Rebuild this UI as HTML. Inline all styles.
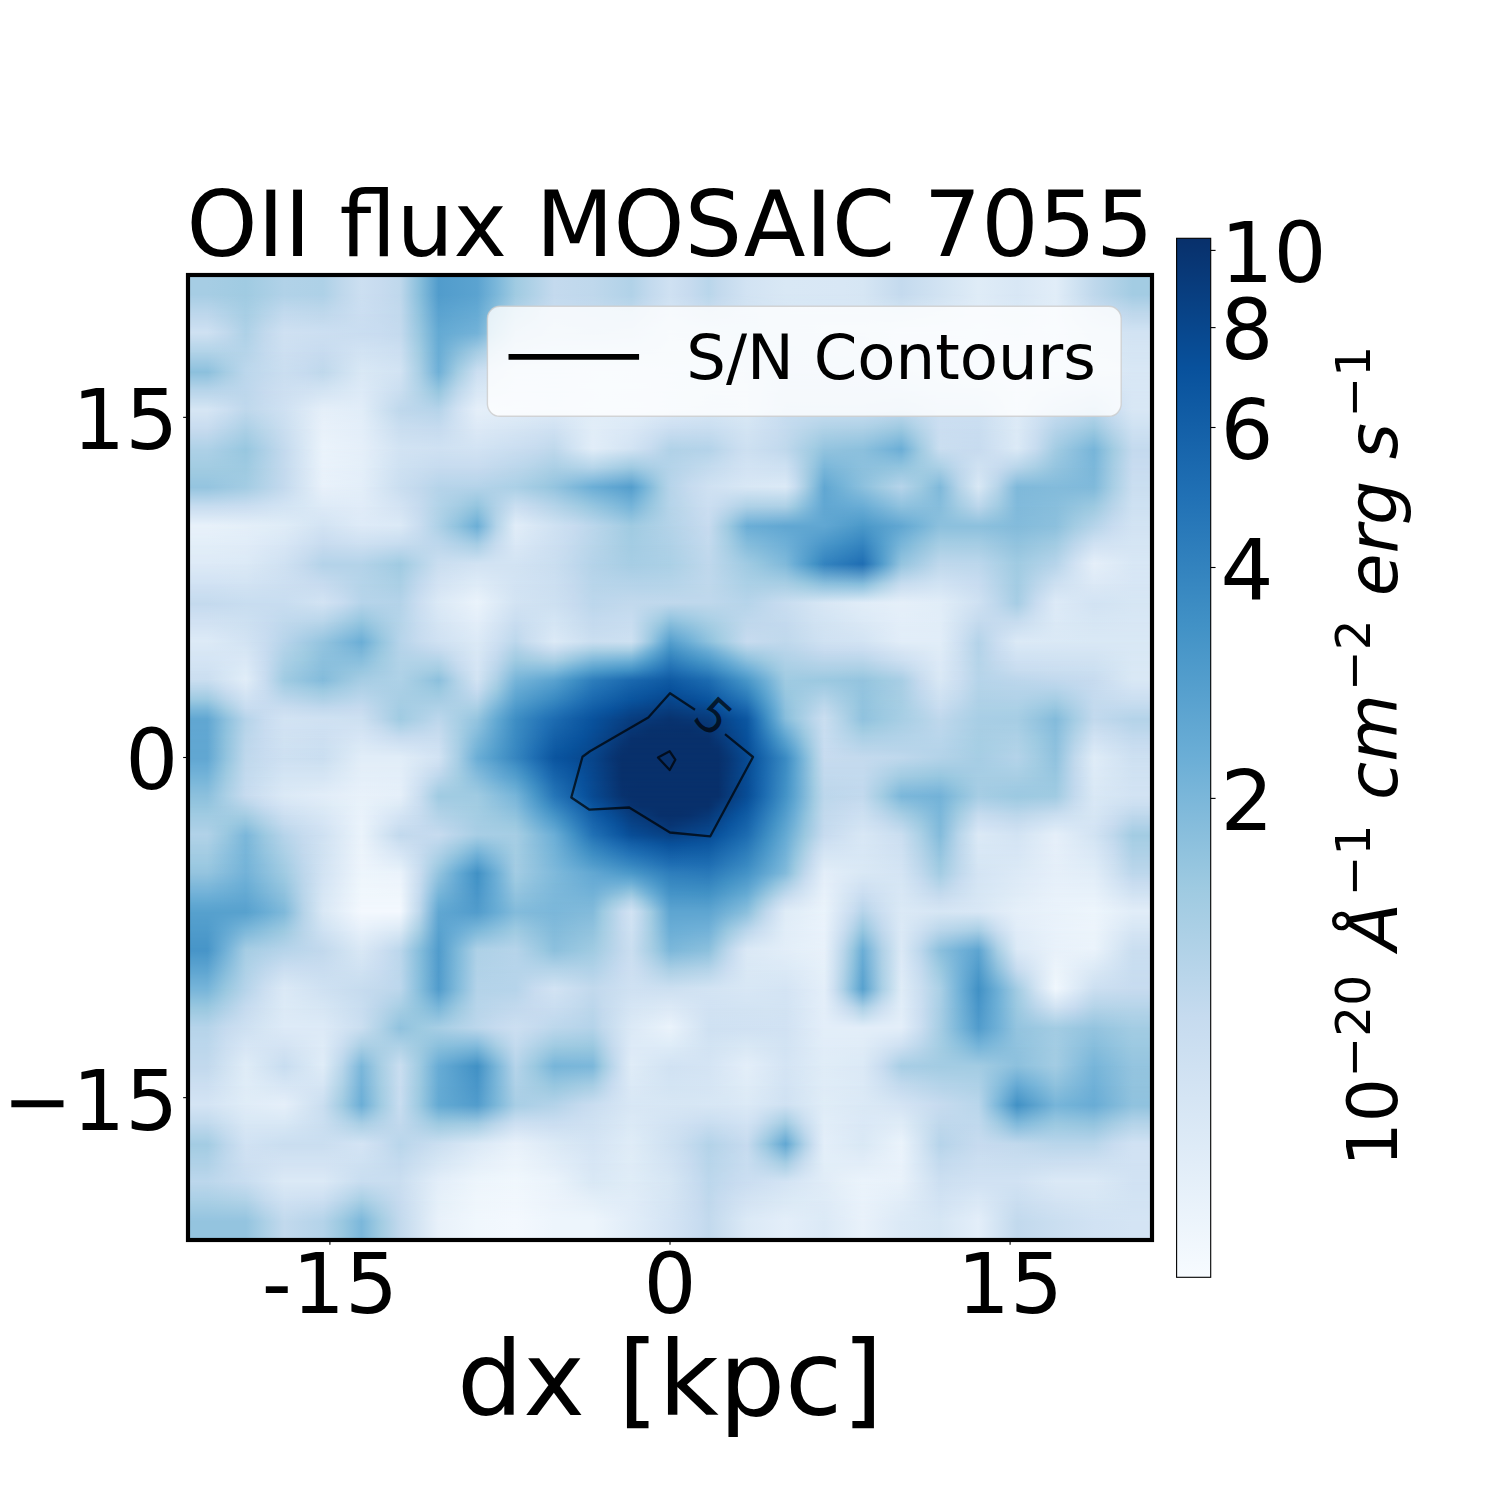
<!DOCTYPE html>
<html lang="en"><head><meta charset="utf-8"><title>OII flux MOSAIC 7055</title>
<style>html,body{margin:0;padding:0;background:#fff}svg{display:block}text{font-family:'DejaVu Sans','Liberation Sans',sans-serif;fill:#000}</style>
</head><body>
<svg width="1500" height="1500" viewBox="0 0 1500 1500" role="img" aria-label="OII flux MOSAIC 7055 map with S/N contours and colour bar">
<defs>
<clipPath id="axclip"><rect x="188" y="275" width="964" height="965"/></clipPath>
<linearGradient id="vr" x1="0" y1="0" x2="0" y2="1"><stop offset="0" stop-color="#000"/><stop offset="1" stop-color="#fff"/></linearGradient>
<mask id="vm" maskContentUnits="objectBoundingBox" x="0" y="0" width="1" height="1"><rect x="0" y="0" width="1" height="1" fill="url(#vr)"/></mask>
<linearGradient id="r0" gradientUnits="userSpaceOnUse" x1="207.28" y1="0" x2="1132.72" y2="0"><stop offset="0" stop-color="#a6cde4"/><stop offset="0.0417" stop-color="#a0cbe2"/><stop offset="0.0833" stop-color="#b1d2e8"/><stop offset="0.125" stop-color="#aed1e7"/><stop offset="0.1458" stop-color="#bfd8ec"/><stop offset="0.1667" stop-color="#ccdff1"/><stop offset="0.1875" stop-color="#c7dbef"/><stop offset="0.2083" stop-color="#bfd8ec"/><stop offset="0.2292" stop-color="#89bfdc"/><stop offset="0.25" stop-color="#519ccc"/><stop offset="0.2917" stop-color="#5ba3d0"/><stop offset="0.3125" stop-color="#7bb7da"/><stop offset="0.3333" stop-color="#a0cbe2"/><stop offset="0.375" stop-color="#c4daee"/><stop offset="0.4167" stop-color="#bfd8ec"/><stop offset="0.4583" stop-color="#b1d2e8"/><stop offset="0.4792" stop-color="#c3daee"/><stop offset="0.5" stop-color="#cfe1f2"/><stop offset="0.5208" stop-color="#c7dbef"/><stop offset="0.5417" stop-color="#b9d6eb"/><stop offset="0.5521" stop-color="#c2d9ed"/><stop offset="0.5833" stop-color="#d2e3f3"/><stop offset="0.625" stop-color="#d9e8f5"/><stop offset="0.6875" stop-color="#d8e7f5"/><stop offset="0.7083" stop-color="#d6e6f4"/><stop offset="0.75" stop-color="#c4daee"/><stop offset="0.8333" stop-color="#dfecf7"/><stop offset="0.875" stop-color="#d8e7f5"/><stop offset="0.9167" stop-color="#e1edf8"/><stop offset="0.9583" stop-color="#bfd8ec"/><stop offset="1" stop-color="#a3cce3"/></linearGradient>
<linearGradient id="r1" gradientUnits="userSpaceOnUse" x1="207.28" y1="0" x2="1132.72" y2="0"><stop offset="0" stop-color="#bdd7ec"/><stop offset="0.0417" stop-color="#a7cee4"/><stop offset="0.0833" stop-color="#c3daee"/><stop offset="0.125" stop-color="#bfd8ec"/><stop offset="0.1667" stop-color="#cbdef1"/><stop offset="0.2083" stop-color="#c2d9ed"/><stop offset="0.2292" stop-color="#91c3de"/><stop offset="0.25" stop-color="#5ba3d0"/><stop offset="0.2917" stop-color="#66abd4"/><stop offset="0.3125" stop-color="#8dc1dd"/><stop offset="0.3333" stop-color="#b1d2e8"/><stop offset="0.3646" stop-color="#c4daee"/><stop offset="0.375" stop-color="#c8ddf0"/><stop offset="0.4583" stop-color="#c0d9ed"/><stop offset="0.4688" stop-color="#c7dcef"/><stop offset="0.5" stop-color="#d4e4f4"/><stop offset="0.5417" stop-color="#cadef0"/><stop offset="0.6042" stop-color="#d5e5f4"/><stop offset="0.6354" stop-color="#d8e7f5"/><stop offset="0.7083" stop-color="#d8e7f5"/><stop offset="0.75" stop-color="#d3e4f3"/><stop offset="0.8333" stop-color="#e0ecf8"/><stop offset="0.875" stop-color="#dae9f6"/><stop offset="0.9167" stop-color="#e1edf8"/><stop offset="0.9583" stop-color="#ccdff1"/><stop offset="0.9792" stop-color="#c7dbef"/><stop offset="1" stop-color="#bfd8ec"/></linearGradient>
<linearGradient id="r2" gradientUnits="userSpaceOnUse" x1="207.28" y1="0" x2="1132.72" y2="0"><stop offset="0" stop-color="#cfe1f2"/><stop offset="0.0208" stop-color="#c2d9ed"/><stop offset="0.0417" stop-color="#aed1e7"/><stop offset="0.0625" stop-color="#c2d9ed"/><stop offset="0.0833" stop-color="#cfe1f2"/><stop offset="0.1875" stop-color="#c8dcf0"/><stop offset="0.2083" stop-color="#c4daee"/><stop offset="0.2292" stop-color="#99c7e0"/><stop offset="0.25" stop-color="#64aad3"/><stop offset="0.2917" stop-color="#73b2d8"/><stop offset="0.3125" stop-color="#9fcae1"/><stop offset="0.3333" stop-color="#c2d9ed"/><stop offset="0.375" stop-color="#ccdff1"/><stop offset="0.4167" stop-color="#c8ddf0"/><stop offset="0.4583" stop-color="#ccdff1"/><stop offset="0.5" stop-color="#d9e8f5"/><stop offset="0.5833" stop-color="#d2e3f3"/><stop offset="0.6667" stop-color="#d9e8f5"/><stop offset="0.7083" stop-color="#d9e8f5"/><stop offset="0.75" stop-color="#e1edf8"/><stop offset="0.8333" stop-color="#e1edf8"/><stop offset="0.875" stop-color="#ddeaf7"/><stop offset="0.9167" stop-color="#e1edf8"/><stop offset="0.9583" stop-color="#d6e6f4"/><stop offset="1" stop-color="#d2e3f3"/></linearGradient>
<linearGradient id="r3" gradientUnits="userSpaceOnUse" x1="207.28" y1="0" x2="1132.72" y2="0"><stop offset="0" stop-color="#b2d3e8"/><stop offset="0.0417" stop-color="#b5d4e9"/><stop offset="0.0625" stop-color="#c3daee"/><stop offset="0.0833" stop-color="#cddff1"/><stop offset="0.125" stop-color="#c7dbef"/><stop offset="0.1667" stop-color="#d2e3f3"/><stop offset="0.2083" stop-color="#ccdff1"/><stop offset="0.2292" stop-color="#a2cce2"/><stop offset="0.25" stop-color="#69add5"/><stop offset="0.2708" stop-color="#89bedc"/><stop offset="0.2917" stop-color="#a6cde4"/><stop offset="0.3125" stop-color="#bed8ec"/><stop offset="0.3333" stop-color="#d0e2f2"/><stop offset="0.3958" stop-color="#d5e5f4"/><stop offset="0.4583" stop-color="#d6e6f4"/><stop offset="0.5104" stop-color="#dbe9f6"/><stop offset="0.5938" stop-color="#d5e5f4"/><stop offset="0.625" stop-color="#d2e3f3"/><stop offset="0.7083" stop-color="#d6e6f4"/><stop offset="0.75" stop-color="#ddeaf7"/><stop offset="0.8333" stop-color="#e1edf8"/><stop offset="0.875" stop-color="#dfecf7"/><stop offset="0.9167" stop-color="#e1edf8"/><stop offset="0.9583" stop-color="#d9e8f5"/><stop offset="1" stop-color="#d5e5f4"/></linearGradient>
<linearGradient id="r4" gradientUnits="userSpaceOnUse" x1="207.28" y1="0" x2="1132.72" y2="0"><stop offset="0" stop-color="#8cc0dd"/><stop offset="0.0208" stop-color="#a6cde4"/><stop offset="0.0417" stop-color="#bcd7ec"/><stop offset="0.0833" stop-color="#cadef0"/><stop offset="0.1042" stop-color="#c6dbef"/><stop offset="0.125" stop-color="#bfd8ec"/><stop offset="0.1667" stop-color="#d9e8f5"/><stop offset="0.2083" stop-color="#d2e3f3"/><stop offset="0.2292" stop-color="#aacfe5"/><stop offset="0.25" stop-color="#6fb0d7"/><stop offset="0.2708" stop-color="#a4cde3"/><stop offset="0.2917" stop-color="#ccdff1"/><stop offset="0.3333" stop-color="#ddeaf7"/><stop offset="0.3854" stop-color="#deebf7"/><stop offset="0.4271" stop-color="#e1edf8"/><stop offset="0.4688" stop-color="#e0ecf8"/><stop offset="0.5104" stop-color="#ddeaf7"/><stop offset="0.5521" stop-color="#dceaf6"/><stop offset="0.5938" stop-color="#d7e6f5"/><stop offset="0.625" stop-color="#cfe1f2"/><stop offset="0.6771" stop-color="#d0e2f2"/><stop offset="0.7083" stop-color="#d2e3f3"/><stop offset="0.7708" stop-color="#dbe9f6"/><stop offset="0.8333" stop-color="#e1edf8"/><stop offset="0.9167" stop-color="#e1edf8"/><stop offset="1" stop-color="#d8e7f5"/></linearGradient>
<linearGradient id="r5" gradientUnits="userSpaceOnUse" x1="207.28" y1="0" x2="1132.72" y2="0"><stop offset="0" stop-color="#b8d5ea"/><stop offset="0.0417" stop-color="#bdd7ec"/><stop offset="0.0625" stop-color="#c7dbef"/><stop offset="0.0833" stop-color="#cddff1"/><stop offset="0.125" stop-color="#d3e4f3"/><stop offset="0.1667" stop-color="#ddeaf7"/><stop offset="0.2083" stop-color="#cadef0"/><stop offset="0.2292" stop-color="#b2d3e8"/><stop offset="0.25" stop-color="#96c6df"/><stop offset="0.2708" stop-color="#bed8ec"/><stop offset="0.2917" stop-color="#d8e7f5"/><stop offset="0.3333" stop-color="#dfecf7"/><stop offset="0.375" stop-color="#ddeaf7"/><stop offset="0.4271" stop-color="#e1edf8"/><stop offset="0.4688" stop-color="#e0ecf8"/><stop offset="0.5521" stop-color="#d9e8f5"/><stop offset="0.5833" stop-color="#d9e8f5"/><stop offset="0.625" stop-color="#ccdff1"/><stop offset="0.75" stop-color="#cee1f2"/><stop offset="0.7917" stop-color="#d4e5f4"/><stop offset="0.8333" stop-color="#d6e6f4"/><stop offset="0.875" stop-color="#dfecf7"/><stop offset="0.9375" stop-color="#d1e2f3"/><stop offset="0.9583" stop-color="#cee0f2"/><stop offset="1" stop-color="#d8e7f5"/></linearGradient>
<linearGradient id="r6" gradientUnits="userSpaceOnUse" x1="207.28" y1="0" x2="1132.72" y2="0"><stop offset="0" stop-color="#d6e6f4"/><stop offset="0.0208" stop-color="#ccdff1"/><stop offset="0.0417" stop-color="#bfd8ec"/><stop offset="0.0833" stop-color="#cfe1f2"/><stop offset="0.125" stop-color="#e5eff9"/><stop offset="0.1667" stop-color="#e1edf8"/><stop offset="0.2083" stop-color="#bfd8ec"/><stop offset="0.25" stop-color="#b6d4ea"/><stop offset="0.2708" stop-color="#d1e2f3"/><stop offset="0.2917" stop-color="#e5eff9"/><stop offset="0.375" stop-color="#ddeaf7"/><stop offset="0.4271" stop-color="#e1edf8"/><stop offset="0.4688" stop-color="#e0ecf8"/><stop offset="0.5312" stop-color="#d8e7f5"/><stop offset="0.5417" stop-color="#d6e6f4"/><stop offset="0.5833" stop-color="#d9e8f5"/><stop offset="0.625" stop-color="#c8ddf0"/><stop offset="0.7083" stop-color="#c8ddf0"/><stop offset="0.75" stop-color="#c2d9ed"/><stop offset="0.7917" stop-color="#ccdff1"/><stop offset="0.8333" stop-color="#ccdff1"/><stop offset="0.875" stop-color="#ddeaf7"/><stop offset="0.9167" stop-color="#c8ddf0"/><stop offset="0.9375" stop-color="#c2d9ed"/><stop offset="0.9583" stop-color="#b9d6eb"/><stop offset="0.9792" stop-color="#cbdef1"/><stop offset="1" stop-color="#d8e7f5"/></linearGradient>
<linearGradient id="r7" gradientUnits="userSpaceOnUse" x1="207.28" y1="0" x2="1132.72" y2="0"><stop offset="0" stop-color="#c7dbef"/><stop offset="0.0417" stop-color="#acd0e6"/><stop offset="0.0833" stop-color="#cadef0"/><stop offset="0.125" stop-color="#e8f1fa"/><stop offset="0.1667" stop-color="#e3eef9"/><stop offset="0.2083" stop-color="#cadef0"/><stop offset="0.25" stop-color="#c6dbef"/><stop offset="0.2917" stop-color="#dce9f6"/><stop offset="0.375" stop-color="#cfe1f2"/><stop offset="0.4167" stop-color="#e1edf8"/><stop offset="0.4583" stop-color="#dae8f6"/><stop offset="0.5" stop-color="#cbdef1"/><stop offset="0.5417" stop-color="#c8ddf0"/><stop offset="0.5833" stop-color="#d3e4f3"/><stop offset="0.6146" stop-color="#c9ddf0"/><stop offset="0.6667" stop-color="#b0d2e7"/><stop offset="0.7083" stop-color="#add0e6"/><stop offset="0.75" stop-color="#9bc8e0"/><stop offset="0.7708" stop-color="#b5d4e9"/><stop offset="0.7917" stop-color="#cbdef1"/><stop offset="0.8333" stop-color="#c9ddf0"/><stop offset="0.875" stop-color="#dceaf6"/><stop offset="0.8958" stop-color="#ccdff1"/><stop offset="0.9167" stop-color="#b6d4ea"/><stop offset="0.9583" stop-color="#9cc9e1"/><stop offset="0.9792" stop-color="#b8d5ea"/><stop offset="1" stop-color="#cee1f2"/></linearGradient>
<linearGradient id="r8" gradientUnits="userSpaceOnUse" x1="207.28" y1="0" x2="1132.72" y2="0"><stop offset="0" stop-color="#aed1e7"/><stop offset="0.0417" stop-color="#98c7e0"/><stop offset="0.0833" stop-color="#c4daee"/><stop offset="0.125" stop-color="#eaf3fb"/><stop offset="0.1667" stop-color="#e5eff9"/><stop offset="0.2083" stop-color="#d2e3f3"/><stop offset="0.25" stop-color="#cfe1f2"/><stop offset="0.2917" stop-color="#d2e3f3"/><stop offset="0.3542" stop-color="#c6dbef"/><stop offset="0.375" stop-color="#bfd8ec"/><stop offset="0.3958" stop-color="#d1e3f3"/><stop offset="0.4167" stop-color="#e1edf8"/><stop offset="0.4583" stop-color="#d2e3f3"/><stop offset="0.4792" stop-color="#c6dbef"/><stop offset="0.5" stop-color="#b1d2e8"/><stop offset="0.5417" stop-color="#b4d3e9"/><stop offset="0.5729" stop-color="#c9ddf0"/><stop offset="0.5833" stop-color="#cde0f1"/><stop offset="0.6146" stop-color="#c4daee"/><stop offset="0.625" stop-color="#bfd8ec"/><stop offset="0.6562" stop-color="#a0cbe2"/><stop offset="0.6667" stop-color="#94c4df"/><stop offset="0.7083" stop-color="#8cc0dd"/><stop offset="0.75" stop-color="#6baed6"/><stop offset="0.7708" stop-color="#a1cbe2"/><stop offset="0.7917" stop-color="#cadef0"/><stop offset="0.8333" stop-color="#c7dbef"/><stop offset="0.875" stop-color="#dbe9f6"/><stop offset="0.8958" stop-color="#c6dbef"/><stop offset="0.9167" stop-color="#a3cce3"/><stop offset="0.9583" stop-color="#77b5d9"/><stop offset="0.9792" stop-color="#a2cce2"/><stop offset="1" stop-color="#c4daee"/></linearGradient>
<linearGradient id="r9" gradientUnits="userSpaceOnUse" x1="207.28" y1="0" x2="1132.72" y2="0"><stop offset="0" stop-color="#a2cce2"/><stop offset="0.0417" stop-color="#9ecae1"/><stop offset="0.0833" stop-color="#c4daee"/><stop offset="0.125" stop-color="#e9f2fb"/><stop offset="0.1667" stop-color="#e4eff9"/><stop offset="0.2083" stop-color="#cee1f2"/><stop offset="0.25" stop-color="#c6dbef"/><stop offset="0.2917" stop-color="#c7dbef"/><stop offset="0.3438" stop-color="#b8d5ea"/><stop offset="0.375" stop-color="#aacfe5"/><stop offset="0.4167" stop-color="#b4d4e9"/><stop offset="0.4583" stop-color="#9dc9e1"/><stop offset="0.5" stop-color="#b4d3e9"/><stop offset="0.5729" stop-color="#cfe1f2"/><stop offset="0.5833" stop-color="#d2e3f3"/><stop offset="0.625" stop-color="#cee1f2"/><stop offset="0.6354" stop-color="#bfd8ed"/><stop offset="0.6458" stop-color="#abcfe5"/><stop offset="0.6562" stop-color="#94c4df"/><stop offset="0.6667" stop-color="#79b6d9"/><stop offset="0.7083" stop-color="#8cc0dd"/><stop offset="0.75" stop-color="#94c5df"/><stop offset="0.7708" stop-color="#a0cbe2"/><stop offset="0.7917" stop-color="#a9cfe5"/><stop offset="0.8125" stop-color="#c0d8ed"/><stop offset="0.8333" stop-color="#d0e2f2"/><stop offset="0.8542" stop-color="#c7dbef"/><stop offset="0.8958" stop-color="#a7cee4"/><stop offset="0.9167" stop-color="#94c4df"/><stop offset="0.9583" stop-color="#7bb7da"/><stop offset="0.9792" stop-color="#a6cde4"/><stop offset="1" stop-color="#c8dcf0"/></linearGradient>
<linearGradient id="r10" gradientUnits="userSpaceOnUse" x1="207.28" y1="0" x2="1132.72" y2="0"><stop offset="0" stop-color="#94c4df"/><stop offset="0.0417" stop-color="#a3cce3"/><stop offset="0.0833" stop-color="#c4daee"/><stop offset="0.125" stop-color="#e8f1fa"/><stop offset="0.1667" stop-color="#e3eef9"/><stop offset="0.2083" stop-color="#cadef0"/><stop offset="0.2292" stop-color="#c2d9ed"/><stop offset="0.25" stop-color="#b6d4ea"/><stop offset="0.2917" stop-color="#b4d3e9"/><stop offset="0.3333" stop-color="#abd0e6"/><stop offset="0.3646" stop-color="#9bc8e0"/><stop offset="0.375" stop-color="#94c4df"/><stop offset="0.4167" stop-color="#6baed6"/><stop offset="0.4583" stop-color="#549ecd"/><stop offset="0.4688" stop-color="#6aaed6"/><stop offset="0.4896" stop-color="#a1cbe2"/><stop offset="0.5" stop-color="#b6d4ea"/><stop offset="0.5208" stop-color="#c6dbef"/><stop offset="0.5417" stop-color="#cfe1f2"/><stop offset="0.5833" stop-color="#d8e7f5"/><stop offset="0.625" stop-color="#dbe9f6"/><stop offset="0.6354" stop-color="#c8ddf0"/><stop offset="0.6458" stop-color="#abcfe5"/><stop offset="0.6562" stop-color="#87bddc"/><stop offset="0.6667" stop-color="#61a7d2"/><stop offset="0.6875" stop-color="#75b4d8"/><stop offset="0.7292" stop-color="#a3cce3"/><stop offset="0.75" stop-color="#b6d4ea"/><stop offset="0.7708" stop-color="#9ecae1"/><stop offset="0.7917" stop-color="#7fb9da"/><stop offset="0.8125" stop-color="#b6d4e9"/><stop offset="0.8333" stop-color="#d9e8f5"/><stop offset="0.8542" stop-color="#b6d4e9"/><stop offset="0.875" stop-color="#7fb9da"/><stop offset="0.9167" stop-color="#83bbdb"/><stop offset="0.9583" stop-color="#7fb9da"/><stop offset="0.9792" stop-color="#a9cfe5"/><stop offset="1" stop-color="#cadef0"/></linearGradient>
<linearGradient id="r11" gradientUnits="userSpaceOnUse" x1="207.28" y1="0" x2="1132.72" y2="0"><stop offset="0" stop-color="#c8ddf0"/><stop offset="0.0417" stop-color="#cbdef1"/><stop offset="0.1042" stop-color="#d7e7f5"/><stop offset="0.125" stop-color="#ddeaf7"/><stop offset="0.1667" stop-color="#e0ecf8"/><stop offset="0.2083" stop-color="#d3e3f3"/><stop offset="0.2292" stop-color="#c6dbef"/><stop offset="0.25" stop-color="#b2d3e8"/><stop offset="0.2708" stop-color="#a4cce3"/><stop offset="0.2917" stop-color="#92c4de"/><stop offset="0.3125" stop-color="#b2d2e8"/><stop offset="0.3333" stop-color="#cbdff1"/><stop offset="0.3438" stop-color="#c8dcf0"/><stop offset="0.375" stop-color="#b6d4e9"/><stop offset="0.4062" stop-color="#a0cbe2"/><stop offset="0.4583" stop-color="#77b5d9"/><stop offset="0.4792" stop-color="#99c7e0"/><stop offset="0.5" stop-color="#b5d4e9"/><stop offset="0.5312" stop-color="#c7dcef"/><stop offset="0.5417" stop-color="#cbdef1"/><stop offset="0.5521" stop-color="#c6dbef"/><stop offset="0.5833" stop-color="#add0e6"/><stop offset="0.625" stop-color="#abcfe5"/><stop offset="0.6354" stop-color="#9ac8e0"/><stop offset="0.6562" stop-color="#73b2d8"/><stop offset="0.6667" stop-color="#61a7d2"/><stop offset="0.7083" stop-color="#68acd5"/><stop offset="0.75" stop-color="#8ec1de"/><stop offset="0.7917" stop-color="#86bddc"/><stop offset="0.8125" stop-color="#a3cce3"/><stop offset="0.8333" stop-color="#bbd6eb"/><stop offset="0.8542" stop-color="#a1cbe2"/><stop offset="0.875" stop-color="#81badb"/><stop offset="0.9167" stop-color="#88bedc"/><stop offset="0.9583" stop-color="#9ecae1"/><stop offset="0.9792" stop-color="#b9d5ea"/><stop offset="1" stop-color="#cee1f2"/></linearGradient>
<linearGradient id="r12" gradientUnits="userSpaceOnUse" x1="207.28" y1="0" x2="1132.72" y2="0"><stop offset="0" stop-color="#e8f1fa"/><stop offset="0.0625" stop-color="#e2eef8"/><stop offset="0.0833" stop-color="#dfecf7"/><stop offset="0.125" stop-color="#d2e3f3"/><stop offset="0.1667" stop-color="#ddeaf7"/><stop offset="0.2083" stop-color="#dbe9f6"/><stop offset="0.2292" stop-color="#c9ddf0"/><stop offset="0.25" stop-color="#aed1e7"/><stop offset="0.2708" stop-color="#8fc2de"/><stop offset="0.2917" stop-color="#6baed6"/><stop offset="0.3125" stop-color="#b4d4e9"/><stop offset="0.3333" stop-color="#e1edf8"/><stop offset="0.3854" stop-color="#cbdff1"/><stop offset="0.3958" stop-color="#c8dcf0"/><stop offset="0.4375" stop-color="#aed1e7"/><stop offset="0.4583" stop-color="#a0cbe2"/><stop offset="0.5417" stop-color="#c7dbef"/><stop offset="0.5625" stop-color="#9fcae1"/><stop offset="0.5833" stop-color="#6baed6"/><stop offset="0.625" stop-color="#61a7d2"/><stop offset="0.6667" stop-color="#61a7d2"/><stop offset="0.7083" stop-color="#4a98c9"/><stop offset="0.75" stop-color="#61a7d2"/><stop offset="0.7708" stop-color="#75b4d8"/><stop offset="0.7917" stop-color="#8cc0dd"/><stop offset="0.8333" stop-color="#8cc0dd"/><stop offset="0.875" stop-color="#83bbdb"/><stop offset="0.9167" stop-color="#8cc0dd"/><stop offset="0.9375" stop-color="#a3cce3"/><stop offset="0.9792" stop-color="#c8dcf0"/><stop offset="1" stop-color="#d2e3f3"/></linearGradient>
<linearGradient id="r13" gradientUnits="userSpaceOnUse" x1="207.28" y1="0" x2="1132.72" y2="0"><stop offset="0" stop-color="#e2eef8"/><stop offset="0.0417" stop-color="#e0ecf8"/><stop offset="0.0833" stop-color="#d7e6f5"/><stop offset="0.125" stop-color="#c7dbef"/><stop offset="0.1667" stop-color="#ccdff1"/><stop offset="0.25" stop-color="#bdd7ec"/><stop offset="0.2917" stop-color="#a8cee5"/><stop offset="0.3125" stop-color="#c7dcef"/><stop offset="0.3333" stop-color="#dae8f6"/><stop offset="0.3854" stop-color="#c9ddf0"/><stop offset="0.4479" stop-color="#a8cee4"/><stop offset="0.4583" stop-color="#a3cce3"/><stop offset="0.5" stop-color="#afd1e7"/><stop offset="0.5417" stop-color="#c3daee"/><stop offset="0.5625" stop-color="#a7cee4"/><stop offset="0.5833" stop-color="#86bddc"/><stop offset="0.625" stop-color="#6fb0d7"/><stop offset="0.6667" stop-color="#4996c9"/><stop offset="0.6875" stop-color="#3d8dc4"/><stop offset="0.7083" stop-color="#3383bf"/><stop offset="0.7292" stop-color="#539ecd"/><stop offset="0.75" stop-color="#79b6d9"/><stop offset="0.7708" stop-color="#92c3de"/><stop offset="0.7917" stop-color="#a7cee4"/><stop offset="0.8333" stop-color="#a6cde4"/><stop offset="0.875" stop-color="#92c3de"/><stop offset="0.9167" stop-color="#a3cce3"/><stop offset="0.9375" stop-color="#bdd7ec"/><stop offset="0.9583" stop-color="#d1e2f3"/><stop offset="1" stop-color="#d5e5f4"/></linearGradient>
<linearGradient id="r14" gradientUnits="userSpaceOnUse" x1="207.28" y1="0" x2="1132.72" y2="0"><stop offset="0" stop-color="#ddeaf7"/><stop offset="0.0417" stop-color="#dbe9f6"/><stop offset="0.0833" stop-color="#cfe1f2"/><stop offset="0.1042" stop-color="#c4daee"/><stop offset="0.125" stop-color="#b4d3e9"/><stop offset="0.1667" stop-color="#b4d3e9"/><stop offset="0.2083" stop-color="#a0cbe2"/><stop offset="0.25" stop-color="#cadef0"/><stop offset="0.2917" stop-color="#d2e3f3"/><stop offset="0.3333" stop-color="#d2e3f3"/><stop offset="0.375" stop-color="#cadef0"/><stop offset="0.3958" stop-color="#c0d9ed"/><stop offset="0.4167" stop-color="#b4d3e9"/><stop offset="0.4583" stop-color="#a6cde4"/><stop offset="0.5" stop-color="#abd0e6"/><stop offset="0.5417" stop-color="#bfd8ec"/><stop offset="0.5938" stop-color="#98c7e0"/><stop offset="0.625" stop-color="#7fb9da"/><stop offset="0.6354" stop-color="#69acd5"/><stop offset="0.6562" stop-color="#4393c6"/><stop offset="0.6667" stop-color="#3383bf"/><stop offset="0.7083" stop-color="#1f6eb3"/><stop offset="0.7292" stop-color="#519ccc"/><stop offset="0.75" stop-color="#94c4df"/><stop offset="0.7917" stop-color="#bfd8ec"/><stop offset="0.8333" stop-color="#bcd7ec"/><stop offset="0.875" stop-color="#a0cbe2"/><stop offset="0.9167" stop-color="#b6d4ea"/><stop offset="0.9375" stop-color="#d1e2f3"/><stop offset="0.9583" stop-color="#e5eff9"/><stop offset="1" stop-color="#d8e7f5"/></linearGradient>
<linearGradient id="r15" gradientUnits="userSpaceOnUse" x1="207.28" y1="0" x2="1132.72" y2="0"><stop offset="0" stop-color="#d1e2f3"/><stop offset="0.0417" stop-color="#d2e3f3"/><stop offset="0.125" stop-color="#c7dbef"/><stop offset="0.1667" stop-color="#b5d4e9"/><stop offset="0.2083" stop-color="#aacfe5"/><stop offset="0.2292" stop-color="#c2d9ee"/><stop offset="0.25" stop-color="#d3e3f3"/><stop offset="0.2917" stop-color="#deebf7"/><stop offset="0.3333" stop-color="#d2e3f3"/><stop offset="0.375" stop-color="#ccdff1"/><stop offset="0.3958" stop-color="#c4daee"/><stop offset="0.4167" stop-color="#b8d5ea"/><stop offset="0.4688" stop-color="#b4d3e9"/><stop offset="0.5" stop-color="#b5d4e9"/><stop offset="0.5417" stop-color="#bfd8ec"/><stop offset="0.5833" stop-color="#abd0e6"/><stop offset="0.625" stop-color="#a8cee4"/><stop offset="0.6458" stop-color="#9bc9e0"/><stop offset="0.6667" stop-color="#8cc0dd"/><stop offset="0.7083" stop-color="#86bddc"/><stop offset="0.7292" stop-color="#a9cfe5"/><stop offset="0.75" stop-color="#c7dcef"/><stop offset="0.7917" stop-color="#d1e3f3"/><stop offset="0.8333" stop-color="#c8dcf0"/><stop offset="0.875" stop-color="#a3cce3"/><stop offset="0.8958" stop-color="#bad6eb"/><stop offset="0.9167" stop-color="#cde0f1"/><stop offset="0.9583" stop-color="#dce9f6"/><stop offset="1" stop-color="#d7e6f5"/></linearGradient>
<linearGradient id="r16" gradientUnits="userSpaceOnUse" x1="207.28" y1="0" x2="1132.72" y2="0"><stop offset="0" stop-color="#c4daee"/><stop offset="0.0417" stop-color="#c8ddf0"/><stop offset="0.0833" stop-color="#c8ddf0"/><stop offset="0.125" stop-color="#d2e3f3"/><stop offset="0.1458" stop-color="#c8dcf0"/><stop offset="0.1667" stop-color="#b6d4ea"/><stop offset="0.2083" stop-color="#b4d3e9"/><stop offset="0.2292" stop-color="#cbdef1"/><stop offset="0.25" stop-color="#dbe9f6"/><stop offset="0.2917" stop-color="#eaf3fb"/><stop offset="0.3333" stop-color="#d2e3f3"/><stop offset="0.375" stop-color="#cde0f1"/><stop offset="0.3958" stop-color="#c7dbef"/><stop offset="0.4167" stop-color="#bcd7ec"/><stop offset="0.4583" stop-color="#c2d9ed"/><stop offset="0.5208" stop-color="#bfd8ec"/><stop offset="0.5417" stop-color="#bfd8ec"/><stop offset="0.5833" stop-color="#b6d4ea"/><stop offset="0.6146" stop-color="#c5dbef"/><stop offset="0.6667" stop-color="#d8e7f5"/><stop offset="0.7083" stop-color="#e1edf8"/><stop offset="0.75" stop-color="#e5eff9"/><stop offset="0.7917" stop-color="#e1edf8"/><stop offset="0.8333" stop-color="#cfe1f2"/><stop offset="0.8542" stop-color="#bdd7ec"/><stop offset="0.875" stop-color="#a6cde4"/><stop offset="0.8958" stop-color="#c8dcf0"/><stop offset="0.9167" stop-color="#ddeaf7"/><stop offset="0.9583" stop-color="#d2e3f3"/><stop offset="1" stop-color="#d6e6f4"/></linearGradient>
<linearGradient id="r17" gradientUnits="userSpaceOnUse" x1="207.28" y1="0" x2="1132.72" y2="0"><stop offset="0" stop-color="#d1e2f3"/><stop offset="0.0417" stop-color="#cde0f1"/><stop offset="0.0625" stop-color="#c8dcf0"/><stop offset="0.0833" stop-color="#c0d9ed"/><stop offset="0.125" stop-color="#b8d5ea"/><stop offset="0.1667" stop-color="#94c5df"/><stop offset="0.1875" stop-color="#a6cde4"/><stop offset="0.2083" stop-color="#b5d4e9"/><stop offset="0.2292" stop-color="#c8ddf0"/><stop offset="0.25" stop-color="#d5e5f4"/><stop offset="0.2917" stop-color="#e3eef9"/><stop offset="0.3333" stop-color="#c9ddf0"/><stop offset="0.375" stop-color="#d4e5f4"/><stop offset="0.4167" stop-color="#c4daee"/><stop offset="0.4583" stop-color="#c8ddf0"/><stop offset="0.4896" stop-color="#9ecae1"/><stop offset="0.5" stop-color="#8bc0dd"/><stop offset="0.5417" stop-color="#a7cee4"/><stop offset="0.5833" stop-color="#bfd8ec"/><stop offset="0.625" stop-color="#c4daee"/><stop offset="0.6562" stop-color="#d0e2f2"/><stop offset="0.75" stop-color="#e3eef9"/><stop offset="0.7917" stop-color="#e1edf8"/><stop offset="0.8333" stop-color="#c4daee"/><stop offset="0.875" stop-color="#c7dcef"/><stop offset="0.9167" stop-color="#dbe9f6"/><stop offset="0.9583" stop-color="#d6e6f4"/><stop offset="1" stop-color="#d8e7f5"/></linearGradient>
<linearGradient id="r18" gradientUnits="userSpaceOnUse" x1="207.28" y1="0" x2="1132.72" y2="0"><stop offset="0" stop-color="#ddeaf7"/><stop offset="0.0417" stop-color="#d2e3f3"/><stop offset="0.0625" stop-color="#c8dcf0"/><stop offset="0.125" stop-color="#94c4df"/><stop offset="0.1667" stop-color="#6baed6"/><stop offset="0.1875" stop-color="#94c5df"/><stop offset="0.2083" stop-color="#b6d4ea"/><stop offset="0.2292" stop-color="#c6dbef"/><stop offset="0.25" stop-color="#cfe1f2"/><stop offset="0.2917" stop-color="#dbe9f6"/><stop offset="0.3125" stop-color="#cee0f2"/><stop offset="0.3333" stop-color="#bcd7ec"/><stop offset="0.3438" stop-color="#c7dcef"/><stop offset="0.375" stop-color="#dbe9f6"/><stop offset="0.4167" stop-color="#cadef0"/><stop offset="0.4583" stop-color="#cde0f1"/><stop offset="0.4688" stop-color="#b6d4e9"/><stop offset="0.4792" stop-color="#98c6e0"/><stop offset="0.4896" stop-color="#73b2d8"/><stop offset="0.5" stop-color="#549ecd"/><stop offset="0.5208" stop-color="#6dafd6"/><stop offset="0.5521" stop-color="#9dcae1"/><stop offset="0.5833" stop-color="#c7dbef"/><stop offset="0.625" stop-color="#bfd8ec"/><stop offset="0.6667" stop-color="#cfe1f2"/><stop offset="0.7083" stop-color="#d2e3f3"/><stop offset="0.75" stop-color="#e1edf8"/><stop offset="0.7917" stop-color="#e1edf8"/><stop offset="0.8125" stop-color="#cee0f2"/><stop offset="0.8333" stop-color="#b4d3e9"/><stop offset="0.8542" stop-color="#cbdef1"/><stop offset="0.875" stop-color="#dbe9f6"/><stop offset="0.9583" stop-color="#d9e8f5"/><stop offset="1" stop-color="#d9e8f5"/></linearGradient>
<linearGradient id="r19" gradientUnits="userSpaceOnUse" x1="207.28" y1="0" x2="1132.72" y2="0"><stop offset="0" stop-color="#d8e7f5"/><stop offset="0.0417" stop-color="#d6e6f4"/><stop offset="0.0625" stop-color="#c8dcf0"/><stop offset="0.0833" stop-color="#b1d2e8"/><stop offset="0.1042" stop-color="#a2cce2"/><stop offset="0.125" stop-color="#90c2de"/><stop offset="0.1667" stop-color="#7ab6d9"/><stop offset="0.1875" stop-color="#9ac8e0"/><stop offset="0.2083" stop-color="#b4d3e9"/><stop offset="0.25" stop-color="#c4daee"/><stop offset="0.2917" stop-color="#d9e8f5"/><stop offset="0.3125" stop-color="#c8dcf0"/><stop offset="0.3333" stop-color="#add0e6"/><stop offset="0.3646" stop-color="#c2d9ed"/><stop offset="0.375" stop-color="#c7dcef"/><stop offset="0.4167" stop-color="#a7cee4"/><stop offset="0.4583" stop-color="#a5cde3"/><stop offset="0.4792" stop-color="#6dafd6"/><stop offset="0.5" stop-color="#3f8fc4"/><stop offset="0.5417" stop-color="#69acd5"/><stop offset="0.5729" stop-color="#9dc9e1"/><stop offset="0.5833" stop-color="#abcfe6"/><stop offset="0.6354" stop-color="#bbd6eb"/><stop offset="0.6667" stop-color="#c7dbef"/><stop offset="0.7083" stop-color="#c8dcf0"/><stop offset="0.75" stop-color="#d6e5f4"/><stop offset="0.7917" stop-color="#dfecf7"/><stop offset="0.8125" stop-color="#cde0f1"/><stop offset="0.8333" stop-color="#b4d3e9"/><stop offset="0.8542" stop-color="#c8dcf0"/><stop offset="0.875" stop-color="#d4e5f4"/><stop offset="0.9583" stop-color="#d5e5f4"/><stop offset="1" stop-color="#d9e8f5"/></linearGradient>
<linearGradient id="r20" gradientUnits="userSpaceOnUse" x1="207.28" y1="0" x2="1132.72" y2="0"><stop offset="0" stop-color="#d4e4f4"/><stop offset="0.0417" stop-color="#dae8f6"/><stop offset="0.0625" stop-color="#c8dcf0"/><stop offset="0.0833" stop-color="#abd0e6"/><stop offset="0.1042" stop-color="#9dcae1"/><stop offset="0.125" stop-color="#8cc0dd"/><stop offset="0.1667" stop-color="#89bfdd"/><stop offset="0.1875" stop-color="#a0cbe2"/><stop offset="0.2083" stop-color="#b2d3e8"/><stop offset="0.25" stop-color="#b2d3e8"/><stop offset="0.2708" stop-color="#c9ddf0"/><stop offset="0.2917" stop-color="#d7e6f5"/><stop offset="0.3125" stop-color="#c0d8ed"/><stop offset="0.3333" stop-color="#9ecae1"/><stop offset="0.375" stop-color="#a8cee4"/><stop offset="0.3854" stop-color="#9ecae1"/><stop offset="0.4167" stop-color="#7ab6d9"/><stop offset="0.4583" stop-color="#6dafd6"/><stop offset="0.4792" stop-color="#4a98c9"/><stop offset="0.5" stop-color="#2d7dbb"/><stop offset="0.5312" stop-color="#4393c6"/><stop offset="0.5417" stop-color="#4c99ca"/><stop offset="0.5625" stop-color="#68acd5"/><stop offset="0.5833" stop-color="#8abfdd"/><stop offset="0.6042" stop-color="#9fcae1"/><stop offset="0.625" stop-color="#afd1e7"/><stop offset="0.6667" stop-color="#b9d5ea"/><stop offset="0.7083" stop-color="#b8d5ea"/><stop offset="0.7292" stop-color="#c3daee"/><stop offset="0.7708" stop-color="#d4e4f4"/><stop offset="0.7917" stop-color="#ddeaf7"/><stop offset="0.8125" stop-color="#ccdff1"/><stop offset="0.8333" stop-color="#b5d4e9"/><stop offset="0.8542" stop-color="#c4daee"/><stop offset="0.875" stop-color="#cee0f2"/><stop offset="0.9583" stop-color="#d0e2f2"/><stop offset="1" stop-color="#d9e8f5"/></linearGradient>
<linearGradient id="r21" gradientUnits="userSpaceOnUse" x1="207.28" y1="0" x2="1132.72" y2="0"><stop offset="0" stop-color="#cfe1f2"/><stop offset="0.0417" stop-color="#ddebf7"/><stop offset="0.0625" stop-color="#c8dcf0"/><stop offset="0.0833" stop-color="#a5cde4"/><stop offset="0.125" stop-color="#88bedc"/><stop offset="0.1667" stop-color="#99c7e0"/><stop offset="0.2083" stop-color="#b0d2e7"/><stop offset="0.25" stop-color="#a1cbe2"/><stop offset="0.2708" stop-color="#c0d8ed"/><stop offset="0.2917" stop-color="#d5e5f4"/><stop offset="0.3125" stop-color="#b7d4ea"/><stop offset="0.3333" stop-color="#8abfdd"/><stop offset="0.375" stop-color="#80badb"/><stop offset="0.3958" stop-color="#66abd4"/><stop offset="0.4167" stop-color="#509ccb"/><stop offset="0.4479" stop-color="#4292c6"/><stop offset="0.4583" stop-color="#3f8fc4"/><stop offset="0.4896" stop-color="#2474b7"/><stop offset="0.5" stop-color="#1d6bb0"/><stop offset="0.5208" stop-color="#2777b8"/><stop offset="0.5417" stop-color="#3383be"/><stop offset="0.5625" stop-color="#4b98ca"/><stop offset="0.5833" stop-color="#67abd5"/><stop offset="0.6146" stop-color="#99c7e0"/><stop offset="0.625" stop-color="#a7cee4"/><stop offset="0.6667" stop-color="#abcfe5"/><stop offset="0.7083" stop-color="#a7cee4"/><stop offset="0.75" stop-color="#bbd6eb"/><stop offset="0.7708" stop-color="#cde0f1"/><stop offset="0.7917" stop-color="#dbe9f6"/><stop offset="0.8125" stop-color="#ccdff1"/><stop offset="0.8333" stop-color="#b6d4e9"/><stop offset="0.875" stop-color="#c7dcef"/><stop offset="0.9583" stop-color="#cbdff1"/><stop offset="1" stop-color="#d9e8f5"/></linearGradient>
<linearGradient id="r22" gradientUnits="userSpaceOnUse" x1="207.28" y1="0" x2="1132.72" y2="0"><stop offset="0" stop-color="#cadef0"/><stop offset="0.0417" stop-color="#e1edf8"/><stop offset="0.0625" stop-color="#c8dcf0"/><stop offset="0.0833" stop-color="#a0cbe2"/><stop offset="0.125" stop-color="#83bbdb"/><stop offset="0.1458" stop-color="#96c5df"/><stop offset="0.1667" stop-color="#a6cde4"/><stop offset="0.2083" stop-color="#aed1e7"/><stop offset="0.2292" stop-color="#9fcae1"/><stop offset="0.25" stop-color="#8cc0dd"/><stop offset="0.2708" stop-color="#b5d4e9"/><stop offset="0.2917" stop-color="#d2e3f3"/><stop offset="0.3125" stop-color="#add0e6"/><stop offset="0.3333" stop-color="#77b5d9"/><stop offset="0.375" stop-color="#5ba3d0"/><stop offset="0.3958" stop-color="#4292c6"/><stop offset="0.4167" stop-color="#2e7ebc"/><stop offset="0.4583" stop-color="#1b69af"/><stop offset="0.5" stop-color="#0f5aa3"/><stop offset="0.5417" stop-color="#1d6cb1"/><stop offset="0.5729" stop-color="#3d8dc4"/><stop offset="0.5833" stop-color="#4a98c9"/><stop offset="0.6042" stop-color="#71b1d7"/><stop offset="0.625" stop-color="#a0cbe2"/><stop offset="0.6771" stop-color="#9ac8e0"/><stop offset="0.7083" stop-color="#94c4df"/><stop offset="0.7292" stop-color="#9fcbe1"/><stop offset="0.75" stop-color="#a8cee5"/><stop offset="0.7708" stop-color="#c7dbef"/><stop offset="0.7917" stop-color="#d9e8f5"/><stop offset="0.8125" stop-color="#cbdef1"/><stop offset="0.8333" stop-color="#b6d4ea"/><stop offset="0.9583" stop-color="#c7dbef"/><stop offset="1" stop-color="#d9e8f5"/></linearGradient>
<linearGradient id="r23" gradientUnits="userSpaceOnUse" x1="207.28" y1="0" x2="1132.72" y2="0"><stop offset="0" stop-color="#b5d4e9"/><stop offset="0.0208" stop-color="#caddf0"/><stop offset="0.0417" stop-color="#d8e7f5"/><stop offset="0.0625" stop-color="#c8dcf0"/><stop offset="0.0833" stop-color="#aed1e7"/><stop offset="0.125" stop-color="#9cc9e1"/><stop offset="0.1667" stop-color="#b1d2e8"/><stop offset="0.2083" stop-color="#aacfe5"/><stop offset="0.25" stop-color="#9ac8e0"/><stop offset="0.2917" stop-color="#c8dcf0"/><stop offset="0.3125" stop-color="#9ecae1"/><stop offset="0.3333" stop-color="#67abd4"/><stop offset="0.375" stop-color="#4996c9"/><stop offset="0.3958" stop-color="#3585bf"/><stop offset="0.4167" stop-color="#2373b6"/><stop offset="0.4583" stop-color="#125ea6"/><stop offset="0.5" stop-color="#08509b"/><stop offset="0.5417" stop-color="#1460a8"/><stop offset="0.5625" stop-color="#2474b6"/><stop offset="0.5833" stop-color="#3888c1"/><stop offset="0.5938" stop-color="#4c99ca"/><stop offset="0.6042" stop-color="#63a9d3"/><stop offset="0.625" stop-color="#9ac8e0"/><stop offset="0.6667" stop-color="#a8cee5"/><stop offset="0.6979" stop-color="#99c7e0"/><stop offset="0.7083" stop-color="#93c4df"/><stop offset="0.75" stop-color="#a8cee4"/><stop offset="0.7708" stop-color="#c2d9ee"/><stop offset="0.7917" stop-color="#d3e4f3"/><stop offset="0.8125" stop-color="#c7dcef"/><stop offset="0.8333" stop-color="#b3d3e8"/><stop offset="0.875" stop-color="#b6d4ea"/><stop offset="0.9167" stop-color="#b4d3e9"/><stop offset="0.9583" stop-color="#c6dbef"/><stop offset="1" stop-color="#d2e3f3"/></linearGradient>
<linearGradient id="r24" gradientUnits="userSpaceOnUse" x1="207.28" y1="0" x2="1132.72" y2="0"><stop offset="0" stop-color="#9cc9e1"/><stop offset="0.0208" stop-color="#b9d5ea"/><stop offset="0.0417" stop-color="#cfe1f2"/><stop offset="0.0625" stop-color="#c8dcf0"/><stop offset="0.0833" stop-color="#bdd7ec"/><stop offset="0.125" stop-color="#afd1e7"/><stop offset="0.1667" stop-color="#bcd7ec"/><stop offset="0.2083" stop-color="#a7cee4"/><stop offset="0.25" stop-color="#a6cde4"/><stop offset="0.2917" stop-color="#b8d5ea"/><stop offset="0.3125" stop-color="#8abfdd"/><stop offset="0.3333" stop-color="#59a2cf"/><stop offset="0.375" stop-color="#3989c1"/><stop offset="0.4062" stop-color="#2070b4"/><stop offset="0.4167" stop-color="#1a68ae"/><stop offset="0.4583" stop-color="#0a549e"/><stop offset="0.4792" stop-color="#084d96"/><stop offset="0.5" stop-color="#08468c"/><stop offset="0.5312" stop-color="#08509b"/><stop offset="0.5417" stop-color="#0a549e"/><stop offset="0.5729" stop-color="#1f6eb3"/><stop offset="0.5833" stop-color="#2878b8"/><stop offset="0.5938" stop-color="#3d8dc3"/><stop offset="0.6042" stop-color="#56a0ce"/><stop offset="0.6146" stop-color="#73b2d8"/><stop offset="0.625" stop-color="#94c4df"/><stop offset="0.6354" stop-color="#9ecae1"/><stop offset="0.6667" stop-color="#b5d4e9"/><stop offset="0.6979" stop-color="#9cc9e1"/><stop offset="0.7083" stop-color="#92c3de"/><stop offset="0.7292" stop-color="#9ecae1"/><stop offset="0.75" stop-color="#a7cee4"/><stop offset="0.7708" stop-color="#bdd7ec"/><stop offset="0.7917" stop-color="#cde0f1"/><stop offset="0.8125" stop-color="#c1d9ed"/><stop offset="0.8333" stop-color="#afd1e7"/><stop offset="0.875" stop-color="#b1d2e8"/><stop offset="0.9167" stop-color="#a5cde4"/><stop offset="0.9583" stop-color="#c4daee"/><stop offset="1" stop-color="#cadef0"/></linearGradient>
<linearGradient id="r25" gradientUnits="userSpaceOnUse" x1="207.28" y1="0" x2="1132.72" y2="0"><stop offset="0" stop-color="#7db8da"/><stop offset="0.0208" stop-color="#a5cde3"/><stop offset="0.0417" stop-color="#c6dbef"/><stop offset="0.0833" stop-color="#caddf0"/><stop offset="0.125" stop-color="#c2d9ee"/><stop offset="0.1667" stop-color="#c7dbef"/><stop offset="0.2083" stop-color="#a3cce3"/><stop offset="0.25" stop-color="#b1d2e8"/><stop offset="0.2917" stop-color="#a7cee4"/><stop offset="0.3125" stop-color="#76b4d8"/><stop offset="0.3333" stop-color="#4b98ca"/><stop offset="0.3542" stop-color="#3a8ac2"/><stop offset="0.3854" stop-color="#2373b6"/><stop offset="0.4167" stop-color="#115da6"/><stop offset="0.4375" stop-color="#09539e"/><stop offset="0.4583" stop-color="#08488f"/><stop offset="0.5" stop-color="#083d7e"/><stop offset="0.5417" stop-color="#08478d"/><stop offset="0.5521" stop-color="#084f9a"/><stop offset="0.5833" stop-color="#1a67ae"/><stop offset="0.5938" stop-color="#3080bd"/><stop offset="0.6042" stop-color="#4a97c9"/><stop offset="0.6146" stop-color="#68acd5"/><stop offset="0.625" stop-color="#8ec1dd"/><stop offset="0.6354" stop-color="#9dc9e1"/><stop offset="0.6667" stop-color="#c1d9ed"/><stop offset="0.6979" stop-color="#9fcae1"/><stop offset="0.7083" stop-color="#91c3de"/><stop offset="0.7292" stop-color="#9dc9e1"/><stop offset="0.75" stop-color="#a6cee4"/><stop offset="0.7917" stop-color="#c8dcf0"/><stop offset="0.8333" stop-color="#acd0e6"/><stop offset="0.875" stop-color="#abd0e6"/><stop offset="0.9167" stop-color="#95c5df"/><stop offset="0.9583" stop-color="#c3daee"/><stop offset="1" stop-color="#c0d9ed"/></linearGradient>
<linearGradient id="r26" gradientUnits="userSpaceOnUse" x1="207.28" y1="0" x2="1132.72" y2="0"><stop offset="0" stop-color="#61a7d2"/><stop offset="0.0208" stop-color="#8ec1de"/><stop offset="0.0417" stop-color="#b6d4ea"/><stop offset="0.0625" stop-color="#c8dcf0"/><stop offset="0.0833" stop-color="#d2e3f3"/><stop offset="0.1667" stop-color="#cde0f1"/><stop offset="0.1875" stop-color="#b9d5ea"/><stop offset="0.2083" stop-color="#a0cbe2"/><stop offset="0.25" stop-color="#bcd7ec"/><stop offset="0.2708" stop-color="#a9cfe5"/><stop offset="0.2917" stop-color="#94c4df"/><stop offset="0.3125" stop-color="#64aad3"/><stop offset="0.3333" stop-color="#3e8ec4"/><stop offset="0.3646" stop-color="#2474b7"/><stop offset="0.3854" stop-color="#1865ac"/><stop offset="0.4167" stop-color="#09529d"/><stop offset="0.4583" stop-color="#083d7f"/><stop offset="0.5" stop-color="#08336f"/><stop offset="0.5417" stop-color="#083b7b"/><stop offset="0.5729" stop-color="#08509b"/><stop offset="0.5833" stop-color="#0d57a1"/><stop offset="0.5938" stop-color="#2272b6"/><stop offset="0.6042" stop-color="#3e8ec4"/><stop offset="0.6146" stop-color="#60a6d2"/><stop offset="0.625" stop-color="#88bedc"/><stop offset="0.6354" stop-color="#9cc9e1"/><stop offset="0.6562" stop-color="#bdd7ec"/><stop offset="0.6667" stop-color="#cadef0"/><stop offset="0.6875" stop-color="#b0d2e7"/><stop offset="0.7083" stop-color="#90c2de"/><stop offset="0.7292" stop-color="#9cc9e1"/><stop offset="0.7708" stop-color="#b2d3e8"/><stop offset="0.7917" stop-color="#bfd8ec"/><stop offset="0.8333" stop-color="#a8cee5"/><stop offset="0.875" stop-color="#a6cde4"/><stop offset="0.8958" stop-color="#96c5df"/><stop offset="0.9167" stop-color="#83bbdb"/><stop offset="0.9375" stop-color="#a5cde4"/><stop offset="0.9583" stop-color="#c2d9ed"/><stop offset="1" stop-color="#b4d3e9"/></linearGradient>
<linearGradient id="r27" gradientUnits="userSpaceOnUse" x1="207.28" y1="0" x2="1132.72" y2="0"><stop offset="0" stop-color="#61a7d2"/><stop offset="0.0208" stop-color="#8fc2de"/><stop offset="0.0417" stop-color="#b8d5ea"/><stop offset="0.0625" stop-color="#c8dcf0"/><stop offset="0.0833" stop-color="#d1e2f3"/><stop offset="0.125" stop-color="#cee0f2"/><stop offset="0.1667" stop-color="#d2e3f3"/><stop offset="0.1875" stop-color="#c7dcef"/><stop offset="0.2083" stop-color="#b4d4e9"/><stop offset="0.25" stop-color="#c4daee"/><stop offset="0.2708" stop-color="#a9cfe5"/><stop offset="0.2917" stop-color="#8abfdd"/><stop offset="0.3125" stop-color="#5fa6d1"/><stop offset="0.3333" stop-color="#3c8cc3"/><stop offset="0.3646" stop-color="#206fb4"/><stop offset="0.375" stop-color="#1966ac"/><stop offset="0.4062" stop-color="#0b559f"/><stop offset="0.4167" stop-color="#084f99"/><stop offset="0.4583" stop-color="#083776"/><stop offset="0.4792" stop-color="#08316c"/><stop offset="0.5208" stop-color="#08306b"/><stop offset="0.5417" stop-color="#083572"/><stop offset="0.5729" stop-color="#084c95"/><stop offset="0.5833" stop-color="#0a549e"/><stop offset="0.5938" stop-color="#1d6cb1"/><stop offset="0.6042" stop-color="#3585bf"/><stop offset="0.6146" stop-color="#519ccc"/><stop offset="0.625" stop-color="#71b1d7"/><stop offset="0.6458" stop-color="#a3cce3"/><stop offset="0.6667" stop-color="#c9ddf0"/><stop offset="0.6875" stop-color="#b5d4e9"/><stop offset="0.7083" stop-color="#9fcbe1"/><stop offset="0.7708" stop-color="#b4d3e9"/><stop offset="0.7917" stop-color="#bcd7ec"/><stop offset="0.8333" stop-color="#a8cee4"/><stop offset="0.875" stop-color="#a9cfe5"/><stop offset="0.9167" stop-color="#87bddc"/><stop offset="0.9375" stop-color="#acd0e6"/><stop offset="0.9583" stop-color="#cadef0"/><stop offset="0.9792" stop-color="#c4daee"/><stop offset="1" stop-color="#bbd6eb"/></linearGradient>
<linearGradient id="r28" gradientUnits="userSpaceOnUse" x1="207.28" y1="0" x2="1132.72" y2="0"><stop offset="0" stop-color="#61a7d2"/><stop offset="0.0208" stop-color="#91c3de"/><stop offset="0.0417" stop-color="#bbd6eb"/><stop offset="0.0625" stop-color="#c8dcf0"/><stop offset="0.0833" stop-color="#d0e2f2"/><stop offset="0.125" stop-color="#cddff1"/><stop offset="0.1667" stop-color="#d7e6f5"/><stop offset="0.2083" stop-color="#c8dcf0"/><stop offset="0.25" stop-color="#c9ddf0"/><stop offset="0.2708" stop-color="#a9cfe5"/><stop offset="0.2917" stop-color="#7fb9da"/><stop offset="0.3125" stop-color="#5aa2cf"/><stop offset="0.3333" stop-color="#3a8ac2"/><stop offset="0.3646" stop-color="#1c6bb0"/><stop offset="0.375" stop-color="#1460a8"/><stop offset="0.4062" stop-color="#08519c"/><stop offset="0.4375" stop-color="#083f81"/><stop offset="0.4583" stop-color="#08316d"/><stop offset="0.4792" stop-color="#08306b"/><stop offset="0.5417" stop-color="#08306b"/><stop offset="0.5729" stop-color="#08488f"/><stop offset="0.5833" stop-color="#08519c"/><stop offset="0.5938" stop-color="#1966ad"/><stop offset="0.6042" stop-color="#2c7cbb"/><stop offset="0.6146" stop-color="#4292c6"/><stop offset="0.625" stop-color="#5ea5d1"/><stop offset="0.6458" stop-color="#98c7e0"/><stop offset="0.6562" stop-color="#b2d2e8"/><stop offset="0.6667" stop-color="#c8ddf0"/><stop offset="0.7083" stop-color="#acd0e6"/><stop offset="0.7917" stop-color="#b9d6eb"/><stop offset="0.8333" stop-color="#a7cee4"/><stop offset="0.875" stop-color="#add0e6"/><stop offset="0.8958" stop-color="#9dcae1"/><stop offset="0.9167" stop-color="#8abfdd"/><stop offset="0.9375" stop-color="#b3d3e8"/><stop offset="0.9583" stop-color="#d1e2f3"/><stop offset="1" stop-color="#c3daee"/></linearGradient>
<linearGradient id="r29" gradientUnits="userSpaceOnUse" x1="207.28" y1="0" x2="1132.72" y2="0"><stop offset="0" stop-color="#61a7d2"/><stop offset="0.0208" stop-color="#92c3de"/><stop offset="0.0417" stop-color="#bdd7ec"/><stop offset="0.0625" stop-color="#c8dcf0"/><stop offset="0.0833" stop-color="#cfe1f2"/><stop offset="0.125" stop-color="#cbdff1"/><stop offset="0.1667" stop-color="#dceaf6"/><stop offset="0.25" stop-color="#cee0f2"/><stop offset="0.2708" stop-color="#a9cee5"/><stop offset="0.2917" stop-color="#75b4d8"/><stop offset="0.3125" stop-color="#549fcd"/><stop offset="0.3333" stop-color="#3888c1"/><stop offset="0.3542" stop-color="#2171b5"/><stop offset="0.375" stop-color="#0f5ba4"/><stop offset="0.3958" stop-color="#08529c"/><stop offset="0.4167" stop-color="#08488f"/><stop offset="0.4479" stop-color="#08336f"/><stop offset="0.4583" stop-color="#08306b"/><stop offset="0.5417" stop-color="#08306b"/><stop offset="0.5521" stop-color="#08326e"/><stop offset="0.5833" stop-color="#084e97"/><stop offset="0.5938" stop-color="#1461a8"/><stop offset="0.6042" stop-color="#2373b6"/><stop offset="0.625" stop-color="#4c99ca"/><stop offset="0.6354" stop-color="#69acd5"/><stop offset="0.6458" stop-color="#8cc0dd"/><stop offset="0.6562" stop-color="#acd0e6"/><stop offset="0.6667" stop-color="#c8dcf0"/><stop offset="0.7083" stop-color="#b8d5ea"/><stop offset="0.7917" stop-color="#b6d4ea"/><stop offset="0.8333" stop-color="#a6cee4"/><stop offset="0.875" stop-color="#b0d2e7"/><stop offset="0.8958" stop-color="#a0cbe2"/><stop offset="0.9167" stop-color="#8dc0dd"/><stop offset="0.9375" stop-color="#bad6eb"/><stop offset="0.9583" stop-color="#d8e7f5"/><stop offset="1" stop-color="#c9ddf0"/></linearGradient>
<linearGradient id="r30" gradientUnits="userSpaceOnUse" x1="207.28" y1="0" x2="1132.72" y2="0"><stop offset="0" stop-color="#61a7d2"/><stop offset="0.0208" stop-color="#93c4df"/><stop offset="0.0417" stop-color="#bfd8ec"/><stop offset="0.0625" stop-color="#c8dcf0"/><stop offset="0.0833" stop-color="#cde0f1"/><stop offset="0.125" stop-color="#cadef0"/><stop offset="0.1667" stop-color="#e1edf8"/><stop offset="0.2083" stop-color="#e1edf8"/><stop offset="0.25" stop-color="#d2e3f3"/><stop offset="0.2708" stop-color="#a8cee5"/><stop offset="0.2917" stop-color="#6baed6"/><stop offset="0.3125" stop-color="#4f9bcb"/><stop offset="0.3438" stop-color="#2a7ab9"/><stop offset="0.3542" stop-color="#1e6db2"/><stop offset="0.375" stop-color="#0b559f"/><stop offset="0.3854" stop-color="#08519c"/><stop offset="0.4167" stop-color="#08458a"/><stop offset="0.4375" stop-color="#083573"/><stop offset="0.4479" stop-color="#08306b"/><stop offset="0.5521" stop-color="#08306b"/><stop offset="0.5625" stop-color="#083775"/><stop offset="0.5833" stop-color="#084a92"/><stop offset="0.5938" stop-color="#0f5ba4"/><stop offset="0.6146" stop-color="#2b7bba"/><stop offset="0.625" stop-color="#3b8bc3"/><stop offset="0.6354" stop-color="#5ba3d0"/><stop offset="0.6458" stop-color="#80badb"/><stop offset="0.6562" stop-color="#a7cee4"/><stop offset="0.6667" stop-color="#c7dbef"/><stop offset="0.7292" stop-color="#c2d9ed"/><stop offset="0.75" stop-color="#bfd8ec"/><stop offset="0.8125" stop-color="#add0e6"/><stop offset="0.8333" stop-color="#a6cde4"/><stop offset="0.875" stop-color="#b4d3e9"/><stop offset="0.8958" stop-color="#a3cce3"/><stop offset="0.9167" stop-color="#90c2de"/><stop offset="0.9375" stop-color="#c1d9ed"/><stop offset="0.9583" stop-color="#dfecf7"/><stop offset="1" stop-color="#cde0f1"/></linearGradient>
<linearGradient id="r31" gradientUnits="userSpaceOnUse" x1="207.28" y1="0" x2="1132.72" y2="0"><stop offset="0" stop-color="#6aadd6"/><stop offset="0.0208" stop-color="#9ac8e0"/><stop offset="0.0417" stop-color="#c1d9ed"/><stop offset="0.0833" stop-color="#d1e2f3"/><stop offset="0.125" stop-color="#d0e2f2"/><stop offset="0.1667" stop-color="#e3eef8"/><stop offset="0.2083" stop-color="#e2eef8"/><stop offset="0.25" stop-color="#caddf0"/><stop offset="0.2708" stop-color="#a6cde4"/><stop offset="0.2917" stop-color="#78b5d9"/><stop offset="0.3333" stop-color="#4493c7"/><stop offset="0.3542" stop-color="#2878b9"/><stop offset="0.375" stop-color="#115da6"/><stop offset="0.3958" stop-color="#09529d"/><stop offset="0.4167" stop-color="#08468c"/><stop offset="0.4479" stop-color="#08306b"/><stop offset="0.5521" stop-color="#08306b"/><stop offset="0.5625" stop-color="#083776"/><stop offset="0.5833" stop-color="#084b93"/><stop offset="0.5938" stop-color="#105ca4"/><stop offset="0.6042" stop-color="#1d6cb1"/><stop offset="0.625" stop-color="#3d8dc4"/><stop offset="0.6354" stop-color="#5ca4d0"/><stop offset="0.6562" stop-color="#a5cde4"/><stop offset="0.6667" stop-color="#c4daee"/><stop offset="0.7083" stop-color="#c4daee"/><stop offset="0.75" stop-color="#b0d2e7"/><stop offset="0.7917" stop-color="#a6cde4"/><stop offset="0.8333" stop-color="#a6cde4"/><stop offset="0.875" stop-color="#aed1e7"/><stop offset="0.8958" stop-color="#a2cce2"/><stop offset="0.9167" stop-color="#94c4df"/><stop offset="0.9375" stop-color="#c2d9ed"/><stop offset="0.9583" stop-color="#deebf7"/><stop offset="1" stop-color="#cfe1f2"/></linearGradient>
<linearGradient id="r32" gradientUnits="userSpaceOnUse" x1="207.28" y1="0" x2="1132.72" y2="0"><stop offset="0" stop-color="#75b4d8"/><stop offset="0.0208" stop-color="#a0cbe2"/><stop offset="0.0417" stop-color="#c3daee"/><stop offset="0.0833" stop-color="#d4e5f4"/><stop offset="0.125" stop-color="#d5e5f4"/><stop offset="0.1667" stop-color="#e4eff9"/><stop offset="0.2083" stop-color="#e3eef9"/><stop offset="0.2292" stop-color="#d2e3f3"/><stop offset="0.25" stop-color="#bdd7ec"/><stop offset="0.2708" stop-color="#a4cde3"/><stop offset="0.3125" stop-color="#6aadd6"/><stop offset="0.3333" stop-color="#549ecd"/><stop offset="0.3438" stop-color="#4292c6"/><stop offset="0.3646" stop-color="#2474b7"/><stop offset="0.375" stop-color="#1865ac"/><stop offset="0.3958" stop-color="#0c57a0"/><stop offset="0.4062" stop-color="#084f9a"/><stop offset="0.4479" stop-color="#08306b"/><stop offset="0.5521" stop-color="#08306b"/><stop offset="0.5729" stop-color="#084285"/><stop offset="0.5833" stop-color="#084c94"/><stop offset="0.5938" stop-color="#115da5"/><stop offset="0.6042" stop-color="#1e6db2"/><stop offset="0.625" stop-color="#3f8fc5"/><stop offset="0.6354" stop-color="#5da5d1"/><stop offset="0.6562" stop-color="#a4cde3"/><stop offset="0.6667" stop-color="#c2d9ed"/><stop offset="0.7083" stop-color="#c3daee"/><stop offset="0.75" stop-color="#a1cbe2"/><stop offset="0.7917" stop-color="#96c6df"/><stop offset="0.8333" stop-color="#a6cde4"/><stop offset="0.875" stop-color="#a8cee4"/><stop offset="0.9167" stop-color="#98c7e0"/><stop offset="0.9375" stop-color="#c2d9ee"/><stop offset="0.9583" stop-color="#dceaf6"/><stop offset="1" stop-color="#d0e2f2"/></linearGradient>
<linearGradient id="r33" gradientUnits="userSpaceOnUse" x1="207.28" y1="0" x2="1132.72" y2="0"><stop offset="0" stop-color="#80badb"/><stop offset="0.0208" stop-color="#a6cde4"/><stop offset="0.0417" stop-color="#c5dbef"/><stop offset="0.0833" stop-color="#d8e7f5"/><stop offset="0.125" stop-color="#dbe9f6"/><stop offset="0.1667" stop-color="#e6f0fa"/><stop offset="0.2083" stop-color="#e4eff9"/><stop offset="0.2292" stop-color="#cee0f2"/><stop offset="0.25" stop-color="#aed1e7"/><stop offset="0.2708" stop-color="#a2cce2"/><stop offset="0.2917" stop-color="#93c4df"/><stop offset="0.3333" stop-color="#64aad3"/><stop offset="0.3542" stop-color="#3e8ec4"/><stop offset="0.375" stop-color="#1f6eb2"/><stop offset="0.4062" stop-color="#09529d"/><stop offset="0.4479" stop-color="#08316d"/><stop offset="0.4688" stop-color="#08306b"/><stop offset="0.5521" stop-color="#08306b"/><stop offset="0.5833" stop-color="#084c95"/><stop offset="0.5938" stop-color="#125da6"/><stop offset="0.6042" stop-color="#1f6eb3"/><stop offset="0.625" stop-color="#4191c6"/><stop offset="0.6354" stop-color="#5ea5d1"/><stop offset="0.6562" stop-color="#a2cce3"/><stop offset="0.6667" stop-color="#bfd8ec"/><stop offset="0.7083" stop-color="#c2d9ee"/><stop offset="0.7292" stop-color="#aacfe5"/><stop offset="0.75" stop-color="#8ec1de"/><stop offset="0.7917" stop-color="#85bcdc"/><stop offset="0.8125" stop-color="#96c6df"/><stop offset="0.8333" stop-color="#a6cde4"/><stop offset="0.9167" stop-color="#9cc9e1"/><stop offset="0.9375" stop-color="#c2d9ee"/><stop offset="0.9583" stop-color="#dbe9f6"/><stop offset="1" stop-color="#d1e2f3"/></linearGradient>
<linearGradient id="r34" gradientUnits="userSpaceOnUse" x1="207.28" y1="0" x2="1132.72" y2="0"><stop offset="0" stop-color="#8cc0dd"/><stop offset="0.0208" stop-color="#abd0e6"/><stop offset="0.0417" stop-color="#c7dbef"/><stop offset="0.0833" stop-color="#dbe9f6"/><stop offset="0.1667" stop-color="#e8f1fa"/><stop offset="0.2083" stop-color="#e5eff9"/><stop offset="0.2292" stop-color="#cadef0"/><stop offset="0.25" stop-color="#a0cbe2"/><stop offset="0.2917" stop-color="#a0cbe2"/><stop offset="0.3333" stop-color="#77b5d9"/><stop offset="0.3542" stop-color="#4a98c9"/><stop offset="0.375" stop-color="#2676b8"/><stop offset="0.4062" stop-color="#0b55a0"/><stop offset="0.4167" stop-color="#084a92"/><stop offset="0.4479" stop-color="#08336f"/><stop offset="0.4583" stop-color="#08306b"/><stop offset="0.5521" stop-color="#08306b"/><stop offset="0.5833" stop-color="#084d96"/><stop offset="0.5938" stop-color="#125ea6"/><stop offset="0.6042" stop-color="#2070b4"/><stop offset="0.625" stop-color="#4493c7"/><stop offset="0.6354" stop-color="#5fa6d1"/><stop offset="0.6562" stop-color="#a1cbe2"/><stop offset="0.6667" stop-color="#bcd7ec"/><stop offset="0.7083" stop-color="#c2d9ed"/><stop offset="0.7292" stop-color="#a2cce2"/><stop offset="0.75" stop-color="#7bb7da"/><stop offset="0.7917" stop-color="#73b2d8"/><stop offset="0.8125" stop-color="#8dc1dd"/><stop offset="0.8333" stop-color="#a6cde4"/><stop offset="0.875" stop-color="#9cc9e1"/><stop offset="0.9167" stop-color="#a0cbe2"/><stop offset="0.9375" stop-color="#c3daee"/><stop offset="0.9583" stop-color="#d9e8f5"/><stop offset="1" stop-color="#d2e3f3"/></linearGradient>
<linearGradient id="r35" gradientUnits="userSpaceOnUse" x1="207.28" y1="0" x2="1132.72" y2="0"><stop offset="0" stop-color="#96c6df"/><stop offset="0.0417" stop-color="#b6d4e9"/><stop offset="0.0625" stop-color="#c8dcf0"/><stop offset="0.0833" stop-color="#d4e4f4"/><stop offset="0.125" stop-color="#dceaf6"/><stop offset="0.1667" stop-color="#e8f2fa"/><stop offset="0.2083" stop-color="#dceaf6"/><stop offset="0.2292" stop-color="#c9ddf0"/><stop offset="0.25" stop-color="#aacfe5"/><stop offset="0.2917" stop-color="#a2cce2"/><stop offset="0.3333" stop-color="#83bbdb"/><stop offset="0.3438" stop-color="#6caed6"/><stop offset="0.3646" stop-color="#4594c7"/><stop offset="0.375" stop-color="#3585c0"/><stop offset="0.3958" stop-color="#1e6db2"/><stop offset="0.4167" stop-color="#0a549e"/><stop offset="0.4271" stop-color="#084c95"/><stop offset="0.4583" stop-color="#083370"/><stop offset="0.4688" stop-color="#08306b"/><stop offset="0.5417" stop-color="#08306b"/><stop offset="0.5625" stop-color="#084285"/><stop offset="0.5729" stop-color="#084b94"/><stop offset="0.5833" stop-color="#0b559f"/><stop offset="0.6042" stop-color="#2777b8"/><stop offset="0.6146" stop-color="#3888c1"/><stop offset="0.625" stop-color="#4c99ca"/><stop offset="0.6354" stop-color="#66abd4"/><stop offset="0.6562" stop-color="#a5cde3"/><stop offset="0.6667" stop-color="#bfd8ec"/><stop offset="0.6979" stop-color="#c7dbef"/><stop offset="0.7083" stop-color="#c8ddf0"/><stop offset="0.7292" stop-color="#b0d2e7"/><stop offset="0.75" stop-color="#93c4df"/><stop offset="0.7917" stop-color="#77b5d9"/><stop offset="0.8125" stop-color="#9ac8e0"/><stop offset="0.8333" stop-color="#b6d4ea"/><stop offset="0.875" stop-color="#acd0e6"/><stop offset="0.9167" stop-color="#b6d4e9"/><stop offset="0.9375" stop-color="#cadef0"/><stop offset="0.9583" stop-color="#d8e7f5"/><stop offset="1" stop-color="#cadef0"/></linearGradient>
<linearGradient id="r36" gradientUnits="userSpaceOnUse" x1="207.28" y1="0" x2="1132.72" y2="0"><stop offset="0" stop-color="#a0cbe2"/><stop offset="0.0417" stop-color="#a5cde3"/><stop offset="0.0625" stop-color="#bad6eb"/><stop offset="0.0833" stop-color="#ccdff1"/><stop offset="0.125" stop-color="#d8e7f5"/><stop offset="0.1667" stop-color="#e9f2fb"/><stop offset="0.2083" stop-color="#d4e4f4"/><stop offset="0.2292" stop-color="#c7dcef"/><stop offset="0.25" stop-color="#b3d3e8"/><stop offset="0.2917" stop-color="#a4cde3"/><stop offset="0.3125" stop-color="#9bc8e0"/><stop offset="0.3333" stop-color="#8fc2de"/><stop offset="0.3542" stop-color="#67abd4"/><stop offset="0.375" stop-color="#4594c7"/><stop offset="0.3958" stop-color="#2979b9"/><stop offset="0.4167" stop-color="#125ea6"/><stop offset="0.4271" stop-color="#0b55a0"/><stop offset="0.4375" stop-color="#084d96"/><stop offset="0.4583" stop-color="#083c7d"/><stop offset="0.4896" stop-color="#08306b"/><stop offset="0.5104" stop-color="#08306b"/><stop offset="0.5208" stop-color="#08316d"/><stop offset="0.5417" stop-color="#083877"/><stop offset="0.5625" stop-color="#084a92"/><stop offset="0.5729" stop-color="#0a549e"/><stop offset="0.5833" stop-color="#115da5"/><stop offset="0.5938" stop-color="#1e6db2"/><stop offset="0.6146" stop-color="#3f8fc5"/><stop offset="0.625" stop-color="#549ecd"/><stop offset="0.6354" stop-color="#6eafd7"/><stop offset="0.6458" stop-color="#8dc1dd"/><stop offset="0.6562" stop-color="#a9cfe5"/><stop offset="0.6667" stop-color="#c2d9ed"/><stop offset="0.6979" stop-color="#cbdef1"/><stop offset="0.7083" stop-color="#cde0f1"/><stop offset="0.7292" stop-color="#bdd7ec"/><stop offset="0.75" stop-color="#a8cee4"/><stop offset="0.7708" stop-color="#93c4df"/><stop offset="0.7917" stop-color="#7bb7da"/><stop offset="0.8125" stop-color="#a5cde3"/><stop offset="0.8333" stop-color="#c7dcef"/><stop offset="0.875" stop-color="#bcd7eb"/><stop offset="0.9167" stop-color="#cadef0"/><stop offset="0.9583" stop-color="#d6e6f4"/><stop offset="0.9792" stop-color="#ccdff1"/><stop offset="1" stop-color="#bfd8ec"/></linearGradient>
<linearGradient id="r37" gradientUnits="userSpaceOnUse" x1="207.28" y1="0" x2="1132.72" y2="0"><stop offset="0" stop-color="#a8cee5"/><stop offset="0.0208" stop-color="#9ecae1"/><stop offset="0.0417" stop-color="#91c3de"/><stop offset="0.0625" stop-color="#acd0e6"/><stop offset="0.0833" stop-color="#c3daee"/><stop offset="0.125" stop-color="#d4e4f4"/><stop offset="0.1667" stop-color="#eaf3fb"/><stop offset="0.2083" stop-color="#ccdff1"/><stop offset="0.2292" stop-color="#c6dbef"/><stop offset="0.2708" stop-color="#b2d2e8"/><stop offset="0.2917" stop-color="#a6cde4"/><stop offset="0.3333" stop-color="#9cc9e0"/><stop offset="0.3646" stop-color="#67abd4"/><stop offset="0.375" stop-color="#58a1cf"/><stop offset="0.3854" stop-color="#4594c7"/><stop offset="0.4062" stop-color="#2676b8"/><stop offset="0.4167" stop-color="#1a67ae"/><stop offset="0.4375" stop-color="#0c56a0"/><stop offset="0.4479" stop-color="#084d97"/><stop offset="0.4583" stop-color="#084489"/><stop offset="0.5" stop-color="#083573"/><stop offset="0.5417" stop-color="#084184"/><stop offset="0.5625" stop-color="#09539e"/><stop offset="0.5833" stop-color="#1764ab"/><stop offset="0.5938" stop-color="#2575b7"/><stop offset="0.6146" stop-color="#4796c8"/><stop offset="0.625" stop-color="#5ca4d0"/><stop offset="0.6354" stop-color="#76b4d8"/><stop offset="0.6458" stop-color="#94c4df"/><stop offset="0.6667" stop-color="#c4daee"/><stop offset="0.7083" stop-color="#d2e3f3"/><stop offset="0.7292" stop-color="#c9ddf0"/><stop offset="0.75" stop-color="#bad6eb"/><stop offset="0.7708" stop-color="#a0cbe2"/><stop offset="0.7917" stop-color="#7fb9da"/><stop offset="0.8125" stop-color="#afd1e7"/><stop offset="0.8333" stop-color="#d1e2f3"/><stop offset="0.875" stop-color="#c9ddf0"/><stop offset="0.9167" stop-color="#d7e7f5"/><stop offset="0.9583" stop-color="#d4e4f4"/><stop offset="0.9792" stop-color="#c7dbef"/><stop offset="1" stop-color="#b1d2e8"/></linearGradient>
<linearGradient id="r38" gradientUnits="userSpaceOnUse" x1="207.28" y1="0" x2="1132.72" y2="0"><stop offset="0" stop-color="#b1d2e8"/><stop offset="0.0208" stop-color="#99c7e0"/><stop offset="0.0417" stop-color="#7bb7da"/><stop offset="0.0625" stop-color="#9cc9e1"/><stop offset="0.0833" stop-color="#b6d4ea"/><stop offset="0.1042" stop-color="#c6dbef"/><stop offset="0.125" stop-color="#cfe1f2"/><stop offset="0.1667" stop-color="#eaf3fb"/><stop offset="0.2083" stop-color="#c2d9ed"/><stop offset="0.25" stop-color="#c7dbef"/><stop offset="0.2917" stop-color="#a8cee5"/><stop offset="0.3333" stop-color="#a6cde4"/><stop offset="0.3438" stop-color="#99c7e0"/><stop offset="0.375" stop-color="#6baed6"/><stop offset="0.3958" stop-color="#4292c6"/><stop offset="0.4167" stop-color="#2171b5"/><stop offset="0.4479" stop-color="#0c56a0"/><stop offset="0.4583" stop-color="#084d96"/><stop offset="0.5" stop-color="#084083"/><stop offset="0.5417" stop-color="#084a92"/><stop offset="0.5521" stop-color="#09539e"/><stop offset="0.5833" stop-color="#1d6cb1"/><stop offset="0.6042" stop-color="#3d8dc3"/><stop offset="0.625" stop-color="#64aad3"/><stop offset="0.6458" stop-color="#9bc8e0"/><stop offset="0.6667" stop-color="#c7dbef"/><stop offset="0.7083" stop-color="#d8e7f5"/><stop offset="0.75" stop-color="#cadef0"/><stop offset="0.7708" stop-color="#abd0e6"/><stop offset="0.7917" stop-color="#83bbdb"/><stop offset="0.8125" stop-color="#b9d6eb"/><stop offset="0.8333" stop-color="#dbe9f6"/><stop offset="0.875" stop-color="#d2e3f3"/><stop offset="0.9167" stop-color="#e5eff9"/><stop offset="0.9583" stop-color="#d2e3f3"/><stop offset="0.9792" stop-color="#bfd8ec"/><stop offset="1" stop-color="#a3cce3"/></linearGradient>
<linearGradient id="r39" gradientUnits="userSpaceOnUse" x1="207.28" y1="0" x2="1132.72" y2="0"><stop offset="0" stop-color="#aacfe5"/><stop offset="0.0208" stop-color="#93c4df"/><stop offset="0.0417" stop-color="#79b6d9"/><stop offset="0.0625" stop-color="#98c6e0"/><stop offset="0.0833" stop-color="#b1d2e8"/><stop offset="0.1042" stop-color="#c4daee"/><stop offset="0.1667" stop-color="#ebf3fb"/><stop offset="0.2083" stop-color="#cde0f1"/><stop offset="0.2292" stop-color="#c6dbef"/><stop offset="0.25" stop-color="#bbd6eb"/><stop offset="0.2708" stop-color="#a6cde4"/><stop offset="0.2917" stop-color="#8ec1de"/><stop offset="0.3333" stop-color="#a5cde3"/><stop offset="0.3646" stop-color="#7eb8da"/><stop offset="0.375" stop-color="#70b1d7"/><stop offset="0.4062" stop-color="#3d8dc4"/><stop offset="0.4167" stop-color="#3080bc"/><stop offset="0.4375" stop-color="#206fb4"/><stop offset="0.4583" stop-color="#1460a8"/><stop offset="0.5" stop-color="#08509a"/><stop offset="0.5417" stop-color="#0c56a0"/><stop offset="0.5729" stop-color="#1e6eb2"/><stop offset="0.5833" stop-color="#2676b7"/><stop offset="0.6042" stop-color="#4594c7"/><stop offset="0.625" stop-color="#6baed6"/><stop offset="0.6354" stop-color="#89bedc"/><stop offset="0.6458" stop-color="#a4cde3"/><stop offset="0.6562" stop-color="#bcd7eb"/><stop offset="0.6667" stop-color="#cee0f2"/><stop offset="0.7083" stop-color="#d8e7f5"/><stop offset="0.75" stop-color="#cddff1"/><stop offset="0.7708" stop-color="#b0d2e7"/><stop offset="0.7917" stop-color="#8cc0dd"/><stop offset="0.8125" stop-color="#bbd6eb"/><stop offset="0.8333" stop-color="#d9e8f5"/><stop offset="0.875" stop-color="#d5e5f4"/><stop offset="0.9167" stop-color="#e5eff9"/><stop offset="0.9583" stop-color="#d6e6f4"/><stop offset="0.9792" stop-color="#c5dbef"/><stop offset="1" stop-color="#a9cfe5"/></linearGradient>
<linearGradient id="r40" gradientUnits="userSpaceOnUse" x1="207.28" y1="0" x2="1132.72" y2="0"><stop offset="0" stop-color="#a3cce3"/><stop offset="0.0417" stop-color="#77b5d9"/><stop offset="0.0625" stop-color="#93c4df"/><stop offset="0.0833" stop-color="#abd0e6"/><stop offset="0.1042" stop-color="#c2d9ed"/><stop offset="0.1458" stop-color="#deebf7"/><stop offset="0.1667" stop-color="#ecf4fb"/><stop offset="0.2083" stop-color="#d7e6f5"/><stop offset="0.2292" stop-color="#c7dcef"/><stop offset="0.25" stop-color="#afd1e7"/><stop offset="0.2708" stop-color="#92c3de"/><stop offset="0.2917" stop-color="#71b1d7"/><stop offset="0.3333" stop-color="#a4cde3"/><stop offset="0.3542" stop-color="#8ec1dd"/><stop offset="0.375" stop-color="#75b4d8"/><stop offset="0.4062" stop-color="#4b98c9"/><stop offset="0.4167" stop-color="#3e8ec4"/><stop offset="0.4583" stop-color="#2272b6"/><stop offset="0.5" stop-color="#135fa7"/><stop offset="0.5417" stop-color="#1562a9"/><stop offset="0.5729" stop-color="#2878b9"/><stop offset="0.5833" stop-color="#3080bc"/><stop offset="0.6042" stop-color="#4e9acb"/><stop offset="0.625" stop-color="#73b2d8"/><stop offset="0.6354" stop-color="#92c4df"/><stop offset="0.6458" stop-color="#aed1e6"/><stop offset="0.6562" stop-color="#c6dbef"/><stop offset="0.6667" stop-color="#d5e5f4"/><stop offset="0.7083" stop-color="#d8e7f5"/><stop offset="0.75" stop-color="#cfe1f2"/><stop offset="0.7708" stop-color="#b6d4e9"/><stop offset="0.7917" stop-color="#94c4df"/><stop offset="0.8125" stop-color="#bdd7ec"/><stop offset="0.8333" stop-color="#d8e7f5"/><stop offset="0.875" stop-color="#d7e6f5"/><stop offset="0.9167" stop-color="#e5eff9"/><stop offset="0.9583" stop-color="#dae8f6"/><stop offset="0.9792" stop-color="#c9ddf0"/><stop offset="1" stop-color="#afd1e7"/></linearGradient>
<linearGradient id="r41" gradientUnits="userSpaceOnUse" x1="207.28" y1="0" x2="1132.72" y2="0"><stop offset="0" stop-color="#9cc9e1"/><stop offset="0.0417" stop-color="#75b4d8"/><stop offset="0.0833" stop-color="#a5cde4"/><stop offset="0.1042" stop-color="#bfd8ed"/><stop offset="0.125" stop-color="#d2e3f3"/><stop offset="0.1667" stop-color="#edf4fc"/><stop offset="0.2083" stop-color="#e0edf8"/><stop offset="0.2292" stop-color="#c8ddf0"/><stop offset="0.25" stop-color="#a2cce3"/><stop offset="0.2708" stop-color="#7bb7da"/><stop offset="0.2917" stop-color="#58a1cf"/><stop offset="0.3125" stop-color="#7cb7da"/><stop offset="0.3333" stop-color="#a4cce3"/><stop offset="0.3542" stop-color="#90c2de"/><stop offset="0.3854" stop-color="#6eb0d7"/><stop offset="0.4167" stop-color="#4f9bcb"/><stop offset="0.4583" stop-color="#3585c0"/><stop offset="0.5" stop-color="#1f6eb3"/><stop offset="0.5417" stop-color="#1e6db2"/><stop offset="0.5833" stop-color="#3989c2"/><stop offset="0.6042" stop-color="#58a1ce"/><stop offset="0.6146" stop-color="#68acd5"/><stop offset="0.625" stop-color="#7bb7da"/><stop offset="0.6354" stop-color="#9cc9e1"/><stop offset="0.6458" stop-color="#b7d4ea"/><stop offset="0.6562" stop-color="#ccdff1"/><stop offset="0.6667" stop-color="#dceaf6"/><stop offset="0.7083" stop-color="#d9e8f5"/><stop offset="0.75" stop-color="#d2e3f3"/><stop offset="0.7708" stop-color="#bbd6eb"/><stop offset="0.7917" stop-color="#9cc9e1"/><stop offset="0.8125" stop-color="#bed8ec"/><stop offset="0.8333" stop-color="#d6e6f4"/><stop offset="0.875" stop-color="#d9e8f5"/><stop offset="0.9167" stop-color="#e5eff9"/><stop offset="0.9583" stop-color="#ddebf7"/><stop offset="0.9792" stop-color="#cde0f1"/><stop offset="1" stop-color="#b6d4e9"/></linearGradient>
<linearGradient id="r42" gradientUnits="userSpaceOnUse" x1="207.28" y1="0" x2="1132.72" y2="0"><stop offset="0" stop-color="#94c4df"/><stop offset="0.0417" stop-color="#73b2d8"/><stop offset="0.0833" stop-color="#a0cbe2"/><stop offset="0.1042" stop-color="#bdd7ec"/><stop offset="0.125" stop-color="#d2e3f3"/><stop offset="0.1667" stop-color="#edf5fc"/><stop offset="0.2083" stop-color="#eaf3fb"/><stop offset="0.2292" stop-color="#caddf0"/><stop offset="0.25" stop-color="#94c4df"/><stop offset="0.2708" stop-color="#66abd4"/><stop offset="0.2917" stop-color="#4191c5"/><stop offset="0.3125" stop-color="#6dafd6"/><stop offset="0.3333" stop-color="#a3cce3"/><stop offset="0.3854" stop-color="#77b5d9"/><stop offset="0.4271" stop-color="#5ba3d0"/><stop offset="0.4583" stop-color="#4a98c9"/><stop offset="0.5" stop-color="#2e7ebc"/><stop offset="0.5417" stop-color="#2979b9"/><stop offset="0.5833" stop-color="#4493c7"/><stop offset="0.6146" stop-color="#71b1d7"/><stop offset="0.625" stop-color="#83bbdb"/><stop offset="0.6354" stop-color="#a4cde3"/><stop offset="0.6458" stop-color="#c0d8ed"/><stop offset="0.6667" stop-color="#e3eef9"/><stop offset="0.7083" stop-color="#d9e8f5"/><stop offset="0.75" stop-color="#d4e4f4"/><stop offset="0.7708" stop-color="#c0d9ed"/><stop offset="0.7917" stop-color="#a3cce3"/><stop offset="0.8125" stop-color="#c0d9ed"/><stop offset="0.8333" stop-color="#d4e4f4"/><stop offset="0.8958" stop-color="#e0ecf8"/><stop offset="0.9167" stop-color="#e5eff9"/><stop offset="0.9583" stop-color="#e1edf8"/><stop offset="0.9792" stop-color="#d0e2f2"/><stop offset="1" stop-color="#bcd7ec"/></linearGradient>
<linearGradient id="r43" gradientUnits="userSpaceOnUse" x1="207.28" y1="0" x2="1132.72" y2="0"><stop offset="0" stop-color="#83bbdb"/><stop offset="0.0417" stop-color="#6baed6"/><stop offset="0.0833" stop-color="#98c7e0"/><stop offset="0.1042" stop-color="#bbd6eb"/><stop offset="0.125" stop-color="#d4e4f4"/><stop offset="0.1667" stop-color="#eff6fc"/><stop offset="0.2083" stop-color="#edf4fc"/><stop offset="0.2292" stop-color="#c7dcef"/><stop offset="0.25" stop-color="#87bddc"/><stop offset="0.2708" stop-color="#63a8d3"/><stop offset="0.2917" stop-color="#4494c7"/><stop offset="0.3125" stop-color="#6caed6"/><stop offset="0.3333" stop-color="#9cc9e1"/><stop offset="0.375" stop-color="#7eb9da"/><stop offset="0.4167" stop-color="#69acd5"/><stop offset="0.4583" stop-color="#6dafd6"/><stop offset="0.4896" stop-color="#4493c7"/><stop offset="0.5" stop-color="#3989c1"/><stop offset="0.5417" stop-color="#3585bf"/><stop offset="0.5625" stop-color="#4393c6"/><stop offset="0.5833" stop-color="#549ecd"/><stop offset="0.5938" stop-color="#65aad4"/><stop offset="0.6146" stop-color="#8fc2de"/><stop offset="0.6354" stop-color="#b8d5ea"/><stop offset="0.6458" stop-color="#cbdef1"/><stop offset="0.6667" stop-color="#e5eff9"/><stop offset="0.7083" stop-color="#d2e3f3"/><stop offset="0.75" stop-color="#d6e6f4"/><stop offset="0.7708" stop-color="#c8dcf0"/><stop offset="0.7917" stop-color="#b2d3e8"/><stop offset="0.8125" stop-color="#c8dcf0"/><stop offset="0.8333" stop-color="#d5e5f4"/><stop offset="0.9167" stop-color="#e6f0fa"/><stop offset="0.9583" stop-color="#e4eff9"/><stop offset="1" stop-color="#c8dcf0"/></linearGradient>
<linearGradient id="r44" gradientUnits="userSpaceOnUse" x1="207.28" y1="0" x2="1132.72" y2="0"><stop offset="0" stop-color="#73b2d8"/><stop offset="0.0417" stop-color="#64aad3"/><stop offset="0.0833" stop-color="#90c2de"/><stop offset="0.1042" stop-color="#bad6eb"/><stop offset="0.125" stop-color="#d6e6f4"/><stop offset="0.1667" stop-color="#f0f7fd"/><stop offset="0.2083" stop-color="#eff6fc"/><stop offset="0.2292" stop-color="#c5dbef"/><stop offset="0.25" stop-color="#79b6d9"/><stop offset="0.2917" stop-color="#4996c9"/><stop offset="0.3125" stop-color="#6aadd6"/><stop offset="0.3333" stop-color="#94c4df"/><stop offset="0.375" stop-color="#7db8da"/><stop offset="0.4167" stop-color="#71b1d7"/><stop offset="0.4583" stop-color="#97c6df"/><stop offset="0.4792" stop-color="#69add5"/><stop offset="0.5" stop-color="#4493c7"/><stop offset="0.5417" stop-color="#4191c5"/><stop offset="0.5833" stop-color="#64aad3"/><stop offset="0.6042" stop-color="#94c4df"/><stop offset="0.6146" stop-color="#a9cfe5"/><stop offset="0.625" stop-color="#bcd7ec"/><stop offset="0.6354" stop-color="#cadef0"/><stop offset="0.6667" stop-color="#e7f1fa"/><stop offset="0.7083" stop-color="#cbdef1"/><stop offset="0.75" stop-color="#d8e7f5"/><stop offset="0.7917" stop-color="#c2d9ed"/><stop offset="0.8333" stop-color="#d6e6f4"/><stop offset="0.9167" stop-color="#e8f1fa"/><stop offset="0.9583" stop-color="#e7f1fa"/><stop offset="1" stop-color="#d0e2f2"/></linearGradient>
<linearGradient id="r45" gradientUnits="userSpaceOnUse" x1="207.28" y1="0" x2="1132.72" y2="0"><stop offset="0" stop-color="#64aad3"/><stop offset="0.0417" stop-color="#5ea5d1"/><stop offset="0.0625" stop-color="#71b1d7"/><stop offset="0.0833" stop-color="#88bedc"/><stop offset="0.1042" stop-color="#b8d5ea"/><stop offset="0.125" stop-color="#d8e7f5"/><stop offset="0.1667" stop-color="#f1f7fd"/><stop offset="0.2083" stop-color="#f1f7fd"/><stop offset="0.2292" stop-color="#c1d9ed"/><stop offset="0.25" stop-color="#6cafd6"/><stop offset="0.2917" stop-color="#4d99ca"/><stop offset="0.3125" stop-color="#69add5"/><stop offset="0.3333" stop-color="#8cc0dd"/><stop offset="0.375" stop-color="#7cb8da"/><stop offset="0.4167" stop-color="#7ab6d9"/><stop offset="0.4375" stop-color="#9ecae1"/><stop offset="0.4583" stop-color="#bad6eb"/><stop offset="0.4688" stop-color="#a2cce3"/><stop offset="0.4896" stop-color="#69acd5"/><stop offset="0.5" stop-color="#519ccc"/><stop offset="0.5417" stop-color="#4f9bcb"/><stop offset="0.5833" stop-color="#77b5d9"/><stop offset="0.5938" stop-color="#93c4df"/><stop offset="0.6042" stop-color="#abcfe5"/><stop offset="0.6146" stop-color="#c0d9ed"/><stop offset="0.625" stop-color="#d0e1f2"/><stop offset="0.6667" stop-color="#e9f2fa"/><stop offset="0.6979" stop-color="#cde0f1"/><stop offset="0.7083" stop-color="#c2d9ee"/><stop offset="0.7292" stop-color="#cfe1f2"/><stop offset="0.75" stop-color="#d9e8f5"/><stop offset="0.7917" stop-color="#cddff1"/><stop offset="0.875" stop-color="#e2eef8"/><stop offset="0.9167" stop-color="#e9f2fb"/><stop offset="0.9583" stop-color="#eaf3fb"/><stop offset="1" stop-color="#d9e7f5"/></linearGradient>
<linearGradient id="r46" gradientUnits="userSpaceOnUse" x1="207.28" y1="0" x2="1132.72" y2="0"><stop offset="0" stop-color="#57a1ce"/><stop offset="0.0417" stop-color="#57a1ce"/><stop offset="0.0625" stop-color="#69add5"/><stop offset="0.0833" stop-color="#7fb9da"/><stop offset="0.1042" stop-color="#b6d4e9"/><stop offset="0.125" stop-color="#d9e8f5"/><stop offset="0.1667" stop-color="#f3f8fe"/><stop offset="0.2083" stop-color="#f3f8fe"/><stop offset="0.2292" stop-color="#bed8ec"/><stop offset="0.25" stop-color="#61a7d2"/><stop offset="0.2917" stop-color="#519ccc"/><stop offset="0.3125" stop-color="#68acd5"/><stop offset="0.3333" stop-color="#83bbdb"/><stop offset="0.375" stop-color="#7bb7da"/><stop offset="0.4167" stop-color="#83bbdb"/><stop offset="0.4271" stop-color="#9dcae1"/><stop offset="0.4479" stop-color="#c6dbef"/><stop offset="0.4583" stop-color="#d2e3f3"/><stop offset="0.4688" stop-color="#bed8ec"/><stop offset="0.4792" stop-color="#a2cce2"/><stop offset="0.5" stop-color="#5ea5d1"/><stop offset="0.5417" stop-color="#5ea5d1"/><stop offset="0.5729" stop-color="#7fb9da"/><stop offset="0.5833" stop-color="#8cc0dd"/><stop offset="0.5938" stop-color="#a8cee4"/><stop offset="0.6042" stop-color="#c0d8ed"/><stop offset="0.6146" stop-color="#d1e2f3"/><stop offset="0.625" stop-color="#dfecf7"/><stop offset="0.6667" stop-color="#eaf3fb"/><stop offset="0.6979" stop-color="#c8dcf0"/><stop offset="0.7083" stop-color="#b6d4ea"/><stop offset="0.7292" stop-color="#ccdff1"/><stop offset="0.75" stop-color="#dbe9f6"/><stop offset="0.7917" stop-color="#d6e6f4"/><stop offset="0.8333" stop-color="#d8e7f5"/><stop offset="0.875" stop-color="#e5eff9"/><stop offset="0.9583" stop-color="#edf5fc"/><stop offset="1" stop-color="#e1edf8"/></linearGradient>
<linearGradient id="r47" gradientUnits="userSpaceOnUse" x1="207.28" y1="0" x2="1132.72" y2="0"><stop offset="0" stop-color="#4f9bcb"/><stop offset="0.0208" stop-color="#64a9d3"/><stop offset="0.0417" stop-color="#7db8da"/><stop offset="0.0833" stop-color="#9ecae1"/><stop offset="0.1042" stop-color="#b9d5ea"/><stop offset="0.125" stop-color="#cee1f2"/><stop offset="0.1667" stop-color="#e6f0fa"/><stop offset="0.2083" stop-color="#d9e8f5"/><stop offset="0.2292" stop-color="#a5cde3"/><stop offset="0.25" stop-color="#59a2cf"/><stop offset="0.2708" stop-color="#6aadd6"/><stop offset="0.2917" stop-color="#7eb9da"/><stop offset="0.3333" stop-color="#a0cbe2"/><stop offset="0.375" stop-color="#83bbdb"/><stop offset="0.4167" stop-color="#92c3de"/><stop offset="0.4271" stop-color="#a4cde3"/><stop offset="0.4479" stop-color="#c4daee"/><stop offset="0.4583" stop-color="#cee1f2"/><stop offset="0.4688" stop-color="#bcd7ec"/><stop offset="0.4792" stop-color="#a5cde3"/><stop offset="0.5" stop-color="#6baed6"/><stop offset="0.5417" stop-color="#73b2d8"/><stop offset="0.5625" stop-color="#9cc9e1"/><stop offset="0.5833" stop-color="#bcd7ec"/><stop offset="0.5938" stop-color="#c8ddf0"/><stop offset="0.625" stop-color="#e1edf8"/><stop offset="0.6667" stop-color="#e9f2fb"/><stop offset="0.6875" stop-color="#c9ddf0"/><stop offset="0.6979" stop-color="#b1d2e8"/><stop offset="0.7083" stop-color="#94c5df"/><stop offset="0.7292" stop-color="#c0d8ed"/><stop offset="0.75" stop-color="#dbe9f6"/><stop offset="0.7708" stop-color="#ccdff1"/><stop offset="0.7917" stop-color="#b8d5ea"/><stop offset="0.8333" stop-color="#a6cde4"/><stop offset="0.8542" stop-color="#c9ddf0"/><stop offset="0.875" stop-color="#e0ecf8"/><stop offset="0.9167" stop-color="#e9f2fb"/><stop offset="0.9583" stop-color="#ecf4fb"/><stop offset="1" stop-color="#d5e5f4"/></linearGradient>
<linearGradient id="r48" gradientUnits="userSpaceOnUse" x1="207.28" y1="0" x2="1132.72" y2="0"><stop offset="0" stop-color="#4795c8"/><stop offset="0.0208" stop-color="#73b2d8"/><stop offset="0.0417" stop-color="#a6cde4"/><stop offset="0.0833" stop-color="#b6d4ea"/><stop offset="0.125" stop-color="#c2d9ed"/><stop offset="0.1667" stop-color="#d9e8f5"/><stop offset="0.1875" stop-color="#cddff1"/><stop offset="0.2083" stop-color="#bcd7ec"/><stop offset="0.2292" stop-color="#87bedc"/><stop offset="0.25" stop-color="#519ccc"/><stop offset="0.2708" stop-color="#7eb9da"/><stop offset="0.2917" stop-color="#aed1e7"/><stop offset="0.3333" stop-color="#b6d4ea"/><stop offset="0.3646" stop-color="#98c7e0"/><stop offset="0.375" stop-color="#8cc0dd"/><stop offset="0.4167" stop-color="#a0cbe2"/><stop offset="0.4479" stop-color="#c2d9ed"/><stop offset="0.4583" stop-color="#cadef0"/><stop offset="0.4792" stop-color="#a8cee4"/><stop offset="0.4896" stop-color="#93c4df"/><stop offset="0.5" stop-color="#7bb7da"/><stop offset="0.5417" stop-color="#8cc0dd"/><stop offset="0.5521" stop-color="#a6cde4"/><stop offset="0.5625" stop-color="#bcd7ec"/><stop offset="0.5729" stop-color="#cee0f2"/><stop offset="0.5833" stop-color="#dbe9f6"/><stop offset="0.6354" stop-color="#e4eff9"/><stop offset="0.6667" stop-color="#e8f1fa"/><stop offset="0.6771" stop-color="#d3e4f3"/><stop offset="0.6875" stop-color="#bad6eb"/><stop offset="0.6979" stop-color="#96c6df"/><stop offset="0.7083" stop-color="#6baed6"/><stop offset="0.7292" stop-color="#b0d1e7"/><stop offset="0.75" stop-color="#dbe9f6"/><stop offset="0.7708" stop-color="#bcd7ec"/><stop offset="0.7917" stop-color="#8cc0dd"/><stop offset="0.8125" stop-color="#73b2d8"/><stop offset="0.8333" stop-color="#5ea5d1"/><stop offset="0.8542" stop-color="#a9cfe5"/><stop offset="0.875" stop-color="#dbe9f6"/><stop offset="0.9167" stop-color="#e8f1fa"/><stop offset="0.9583" stop-color="#eaf3fb"/><stop offset="1" stop-color="#cadef0"/></linearGradient>
<linearGradient id="r49" gradientUnits="userSpaceOnUse" x1="207.28" y1="0" x2="1132.72" y2="0"><stop offset="0" stop-color="#5ea5d1"/><stop offset="0.0208" stop-color="#87bddc"/><stop offset="0.0417" stop-color="#aed1e7"/><stop offset="0.0625" stop-color="#bfd8ed"/><stop offset="0.0833" stop-color="#ccdff1"/><stop offset="0.125" stop-color="#c9ddf0"/><stop offset="0.1667" stop-color="#d0e2f2"/><stop offset="0.1875" stop-color="#c8dcf0"/><stop offset="0.2083" stop-color="#bcd7ec"/><stop offset="0.2292" stop-color="#87bedc"/><stop offset="0.25" stop-color="#519ccc"/><stop offset="0.2708" stop-color="#80badb"/><stop offset="0.2917" stop-color="#b1d2e8"/><stop offset="0.3333" stop-color="#b6d4ea"/><stop offset="0.375" stop-color="#b5d4e9"/><stop offset="0.4167" stop-color="#b1d2e8"/><stop offset="0.4479" stop-color="#c8dcf0"/><stop offset="0.4583" stop-color="#cddff1"/><stop offset="0.4688" stop-color="#c7dcef"/><stop offset="0.5" stop-color="#abcfe5"/><stop offset="0.5417" stop-color="#b5d4e9"/><stop offset="0.5625" stop-color="#cbdef1"/><stop offset="0.5833" stop-color="#d9e8f5"/><stop offset="0.625" stop-color="#dbe9f6"/><stop offset="0.6667" stop-color="#e5f0f9"/><stop offset="0.6771" stop-color="#d0e2f2"/><stop offset="0.6875" stop-color="#b3d3e8"/><stop offset="0.6979" stop-color="#8cc0dd"/><stop offset="0.7083" stop-color="#61a7d2"/><stop offset="0.7292" stop-color="#acd0e6"/><stop offset="0.75" stop-color="#ddeaf7"/><stop offset="0.7708" stop-color="#c5dbef"/><stop offset="0.7917" stop-color="#9dcae1"/><stop offset="0.8125" stop-color="#73b2d8"/><stop offset="0.8333" stop-color="#4f9bcb"/><stop offset="0.8542" stop-color="#8dc0dd"/><stop offset="0.875" stop-color="#c6dbef"/><stop offset="0.9167" stop-color="#ecf4fb"/><stop offset="1" stop-color="#c8ddf0"/></linearGradient>
<linearGradient id="r50" gradientUnits="userSpaceOnUse" x1="207.28" y1="0" x2="1132.72" y2="0"><stop offset="0" stop-color="#77b5d9"/><stop offset="0.0208" stop-color="#9ac8e0"/><stop offset="0.0417" stop-color="#b6d4ea"/><stop offset="0.0625" stop-color="#ccdff1"/><stop offset="0.0833" stop-color="#dbe9f6"/><stop offset="0.125" stop-color="#cfe1f2"/><stop offset="0.1875" stop-color="#c2d9ed"/><stop offset="0.2083" stop-color="#bcd7ec"/><stop offset="0.2292" stop-color="#87bedc"/><stop offset="0.25" stop-color="#519ccc"/><stop offset="0.2708" stop-color="#82bbdb"/><stop offset="0.2917" stop-color="#b4d3e9"/><stop offset="0.3333" stop-color="#b6d4ea"/><stop offset="0.3542" stop-color="#c8dcf0"/><stop offset="0.375" stop-color="#d2e3f3"/><stop offset="0.4167" stop-color="#c2d9ed"/><stop offset="0.4583" stop-color="#cfe1f2"/><stop offset="0.5" stop-color="#cde0f1"/><stop offset="0.5833" stop-color="#d8e7f5"/><stop offset="0.625" stop-color="#d4e4f4"/><stop offset="0.6667" stop-color="#e3eef9"/><stop offset="0.6771" stop-color="#cddff1"/><stop offset="0.6875" stop-color="#acd0e6"/><stop offset="0.6979" stop-color="#81badb"/><stop offset="0.7083" stop-color="#57a1ce"/><stop offset="0.7292" stop-color="#a9cfe5"/><stop offset="0.75" stop-color="#dfecf7"/><stop offset="0.7708" stop-color="#cadef0"/><stop offset="0.7917" stop-color="#abd0e6"/><stop offset="0.8125" stop-color="#72b2d8"/><stop offset="0.8333" stop-color="#4191c5"/><stop offset="0.8542" stop-color="#6dafd6"/><stop offset="0.875" stop-color="#a3cce3"/><stop offset="0.8958" stop-color="#d0e2f2"/><stop offset="0.9167" stop-color="#f0f7fd"/><stop offset="0.9583" stop-color="#ccdff1"/><stop offset="1" stop-color="#c7dbef"/></linearGradient>
<linearGradient id="r51" gradientUnits="userSpaceOnUse" x1="207.28" y1="0" x2="1132.72" y2="0"><stop offset="0" stop-color="#9ac8e0"/><stop offset="0.0417" stop-color="#c6dbef"/><stop offset="0.0833" stop-color="#dceaf6"/><stop offset="0.125" stop-color="#d6e6f4"/><stop offset="0.1667" stop-color="#c8ddf0"/><stop offset="0.1875" stop-color="#b9d5ea"/><stop offset="0.2083" stop-color="#a7cee4"/><stop offset="0.2292" stop-color="#92c4de"/><stop offset="0.25" stop-color="#7bb7d9"/><stop offset="0.2708" stop-color="#9dc9e1"/><stop offset="0.2917" stop-color="#b8d5ea"/><stop offset="0.3542" stop-color="#c7dbef"/><stop offset="0.375" stop-color="#c9ddf0"/><stop offset="0.3958" stop-color="#c3daee"/><stop offset="0.4167" stop-color="#bbd6eb"/><stop offset="0.4271" stop-color="#c4daee"/><stop offset="0.4583" stop-color="#d5e5f4"/><stop offset="0.5" stop-color="#dce9f6"/><stop offset="0.5417" stop-color="#d1e2f3"/><stop offset="0.6042" stop-color="#d3e4f3"/><stop offset="0.625" stop-color="#d2e3f3"/><stop offset="0.6667" stop-color="#e3eef9"/><stop offset="0.6875" stop-color="#cddff1"/><stop offset="0.6979" stop-color="#bfd8ec"/><stop offset="0.7083" stop-color="#acd0e6"/><stop offset="0.7292" stop-color="#ccdff1"/><stop offset="0.75" stop-color="#e1edf8"/><stop offset="0.7708" stop-color="#cbdef1"/><stop offset="0.7917" stop-color="#a8cee5"/><stop offset="0.8125" stop-color="#76b4d8"/><stop offset="0.8333" stop-color="#4996c9"/><stop offset="0.8542" stop-color="#6eb0d7"/><stop offset="0.875" stop-color="#9cc9e1"/><stop offset="0.8958" stop-color="#bad6eb"/><stop offset="0.9167" stop-color="#d0e2f2"/><stop offset="0.9375" stop-color="#c5daef"/><stop offset="0.9583" stop-color="#b3d3e8"/><stop offset="1" stop-color="#b5d4e9"/></linearGradient>
<linearGradient id="r52" gradientUnits="userSpaceOnUse" x1="207.28" y1="0" x2="1132.72" y2="0"><stop offset="0" stop-color="#b6d4ea"/><stop offset="0.0208" stop-color="#c6dbef"/><stop offset="0.0625" stop-color="#d6e6f4"/><stop offset="0.0833" stop-color="#ddeaf7"/><stop offset="0.125" stop-color="#ddeaf7"/><stop offset="0.1667" stop-color="#cadef0"/><stop offset="0.1875" stop-color="#b0d2e7"/><stop offset="0.2083" stop-color="#90c2de"/><stop offset="0.2292" stop-color="#9dcae1"/><stop offset="0.3125" stop-color="#c6dbef"/><stop offset="0.3333" stop-color="#ccdff1"/><stop offset="0.3542" stop-color="#c6dbef"/><stop offset="0.375" stop-color="#bcd7ec"/><stop offset="0.4167" stop-color="#b4d3e9"/><stop offset="0.4271" stop-color="#c1d9ed"/><stop offset="0.4479" stop-color="#d3e4f3"/><stop offset="0.4583" stop-color="#dbe9f6"/><stop offset="0.5" stop-color="#eaf3fb"/><stop offset="0.5417" stop-color="#cfe1f2"/><stop offset="0.625" stop-color="#d1e2f3"/><stop offset="0.6667" stop-color="#e3eef9"/><stop offset="0.75" stop-color="#e3eef9"/><stop offset="0.7708" stop-color="#cbdef1"/><stop offset="0.7917" stop-color="#a6cde4"/><stop offset="0.8125" stop-color="#79b6d9"/><stop offset="0.8333" stop-color="#519ccc"/><stop offset="0.8542" stop-color="#6fb0d7"/><stop offset="0.875" stop-color="#94c4df"/><stop offset="0.9167" stop-color="#a3cce3"/><stop offset="0.9583" stop-color="#94c4df"/><stop offset="1" stop-color="#a3cce3"/></linearGradient>
<linearGradient id="r53" gradientUnits="userSpaceOnUse" x1="207.28" y1="0" x2="1132.72" y2="0"><stop offset="0" stop-color="#bcd7ec"/><stop offset="0.0208" stop-color="#ccdff1"/><stop offset="0.0417" stop-color="#d7e6f5"/><stop offset="0.0833" stop-color="#d3e3f3"/><stop offset="0.125" stop-color="#deebf7"/><stop offset="0.1458" stop-color="#c9ddf0"/><stop offset="0.1667" stop-color="#a8cee4"/><stop offset="0.2083" stop-color="#b0d2e7"/><stop offset="0.2292" stop-color="#9fcae1"/><stop offset="0.25" stop-color="#89bfdc"/><stop offset="0.2917" stop-color="#7db8da"/><stop offset="0.3125" stop-color="#a4cce3"/><stop offset="0.3333" stop-color="#c3daee"/><stop offset="0.375" stop-color="#9ecae1"/><stop offset="0.4167" stop-color="#9ac8e0"/><stop offset="0.4375" stop-color="#c4daee"/><stop offset="0.4583" stop-color="#ddeaf7"/><stop offset="0.5" stop-color="#ddebf7"/><stop offset="0.5417" stop-color="#d2e3f3"/><stop offset="0.5833" stop-color="#d9e8f5"/><stop offset="0.625" stop-color="#d2e3f3"/><stop offset="0.6667" stop-color="#e1edf8"/><stop offset="0.7083" stop-color="#dfecf7"/><stop offset="0.75" stop-color="#ccdff1"/><stop offset="0.7708" stop-color="#bad6eb"/><stop offset="0.7917" stop-color="#a4cde3"/><stop offset="0.8125" stop-color="#8fc2de"/><stop offset="0.8333" stop-color="#77b5d9"/><stop offset="0.875" stop-color="#90c2de"/><stop offset="0.9167" stop-color="#a3cce3"/><stop offset="0.9583" stop-color="#86bddc"/><stop offset="1" stop-color="#9cc9e1"/></linearGradient>
<linearGradient id="r54" gradientUnits="userSpaceOnUse" x1="207.28" y1="0" x2="1132.72" y2="0"><stop offset="0" stop-color="#c2d9ed"/><stop offset="0.0417" stop-color="#dfecf7"/><stop offset="0.0833" stop-color="#c8ddf0"/><stop offset="0.125" stop-color="#dfecf7"/><stop offset="0.1458" stop-color="#b9d6eb"/><stop offset="0.1667" stop-color="#7bb7da"/><stop offset="0.1875" stop-color="#a8cee4"/><stop offset="0.2083" stop-color="#cadef0"/><stop offset="0.2292" stop-color="#a0cbe2"/><stop offset="0.25" stop-color="#68acd5"/><stop offset="0.2917" stop-color="#4191c5"/><stop offset="0.3125" stop-color="#7ab6d9"/><stop offset="0.3333" stop-color="#b6d4ea"/><stop offset="0.3542" stop-color="#9ac8e0"/><stop offset="0.375" stop-color="#77b5d9"/><stop offset="0.4167" stop-color="#7bb7da"/><stop offset="0.4271" stop-color="#9ecae1"/><stop offset="0.4375" stop-color="#b9d6eb"/><stop offset="0.4479" stop-color="#cfe1f2"/><stop offset="0.4583" stop-color="#dfecf7"/><stop offset="0.5" stop-color="#d1e2f3"/><stop offset="0.5417" stop-color="#d4e4f4"/><stop offset="0.5833" stop-color="#e3eef9"/><stop offset="0.625" stop-color="#d4e4f4"/><stop offset="0.6667" stop-color="#dfecf7"/><stop offset="0.7083" stop-color="#dbe9f6"/><stop offset="0.7292" stop-color="#c8dcf0"/><stop offset="0.75" stop-color="#a8cee5"/><stop offset="0.7917" stop-color="#a3cce3"/><stop offset="0.8333" stop-color="#a3cce3"/><stop offset="0.875" stop-color="#8cc0dd"/><stop offset="0.9167" stop-color="#a3cce3"/><stop offset="0.9583" stop-color="#77b5d9"/><stop offset="1" stop-color="#94c4df"/></linearGradient>
<linearGradient id="r55" gradientUnits="userSpaceOnUse" x1="207.28" y1="0" x2="1132.72" y2="0"><stop offset="0" stop-color="#ccdff1"/><stop offset="0.0417" stop-color="#dfecf7"/><stop offset="0.0833" stop-color="#d7e6f5"/><stop offset="0.125" stop-color="#d5e5f4"/><stop offset="0.1458" stop-color="#add1e6"/><stop offset="0.1667" stop-color="#73b2d8"/><stop offset="0.1875" stop-color="#a4cde3"/><stop offset="0.2083" stop-color="#c9ddf0"/><stop offset="0.2292" stop-color="#9ecae1"/><stop offset="0.25" stop-color="#66abd4"/><stop offset="0.2917" stop-color="#4996c9"/><stop offset="0.3125" stop-color="#7ab6d9"/><stop offset="0.3333" stop-color="#afd1e7"/><stop offset="0.3646" stop-color="#9fcae1"/><stop offset="0.375" stop-color="#98c7e0"/><stop offset="0.4167" stop-color="#a8cee4"/><stop offset="0.4375" stop-color="#c8dcf0"/><stop offset="0.4583" stop-color="#dbe9f6"/><stop offset="0.5" stop-color="#d3e4f3"/><stop offset="0.5417" stop-color="#d5e5f4"/><stop offset="0.5833" stop-color="#dfecf7"/><stop offset="0.625" stop-color="#d2e3f3"/><stop offset="0.6667" stop-color="#dfecf7"/><stop offset="0.7083" stop-color="#dbe9f6"/><stop offset="0.75" stop-color="#c3daee"/><stop offset="0.7917" stop-color="#b5d4e9"/><stop offset="0.8333" stop-color="#aed1e7"/><stop offset="0.8542" stop-color="#8abfdd"/><stop offset="0.875" stop-color="#63a8d3"/><stop offset="0.8958" stop-color="#77b5d9"/><stop offset="0.9167" stop-color="#8ec1dd"/><stop offset="0.9583" stop-color="#6fb0d7"/><stop offset="1" stop-color="#92c3de"/></linearGradient>
<linearGradient id="r56" gradientUnits="userSpaceOnUse" x1="207.28" y1="0" x2="1132.72" y2="0"><stop offset="0" stop-color="#d4e4f4"/><stop offset="0.0417" stop-color="#dfecf7"/><stop offset="0.0833" stop-color="#e5eff9"/><stop offset="0.125" stop-color="#cadef0"/><stop offset="0.1458" stop-color="#a1cbe2"/><stop offset="0.1667" stop-color="#6baed6"/><stop offset="0.1875" stop-color="#a0cbe2"/><stop offset="0.2083" stop-color="#c8ddf0"/><stop offset="0.2292" stop-color="#9cc9e1"/><stop offset="0.25" stop-color="#64aad3"/><stop offset="0.2917" stop-color="#519ccc"/><stop offset="0.3125" stop-color="#7bb7d9"/><stop offset="0.3333" stop-color="#a8cee5"/><stop offset="0.375" stop-color="#b4d3e9"/><stop offset="0.4062" stop-color="#c6dbef"/><stop offset="0.4583" stop-color="#d8e7f5"/><stop offset="0.5208" stop-color="#d6e6f4"/><stop offset="0.5625" stop-color="#d8e7f5"/><stop offset="0.5833" stop-color="#dbe9f6"/><stop offset="0.625" stop-color="#cfe1f2"/><stop offset="0.6667" stop-color="#dfecf7"/><stop offset="0.7292" stop-color="#d8e7f5"/><stop offset="0.75" stop-color="#d4e4f4"/><stop offset="0.7917" stop-color="#c7dbef"/><stop offset="0.8333" stop-color="#b9d6eb"/><stop offset="0.8542" stop-color="#7bb7da"/><stop offset="0.875" stop-color="#4191c5"/><stop offset="0.9167" stop-color="#77b5d9"/><stop offset="0.9583" stop-color="#68acd5"/><stop offset="1" stop-color="#90c2de"/></linearGradient>
<linearGradient id="r57" gradientUnits="userSpaceOnUse" x1="207.28" y1="0" x2="1132.72" y2="0"><stop offset="0" stop-color="#c0d9ed"/><stop offset="0.0417" stop-color="#d8e7f5"/><stop offset="0.0833" stop-color="#d7e7f5"/><stop offset="0.125" stop-color="#cadef0"/><stop offset="0.1667" stop-color="#aacfe5"/><stop offset="0.2083" stop-color="#c2d9ed"/><stop offset="0.25" stop-color="#9ecae1"/><stop offset="0.2917" stop-color="#a3cce3"/><stop offset="0.3125" stop-color="#bbd6eb"/><stop offset="0.3333" stop-color="#cee0f2"/><stop offset="0.375" stop-color="#cbdef1"/><stop offset="0.4167" stop-color="#cfe1f2"/><stop offset="0.4583" stop-color="#dbe9f6"/><stop offset="0.5312" stop-color="#cbdef1"/><stop offset="0.5417" stop-color="#c8ddf0"/><stop offset="0.5833" stop-color="#d1e2f3"/><stop offset="0.5938" stop-color="#c9ddf0"/><stop offset="0.625" stop-color="#a1cbe2"/><stop offset="0.6458" stop-color="#c8ddf0"/><stop offset="0.6667" stop-color="#e1edf8"/><stop offset="0.7083" stop-color="#dae8f6"/><stop offset="0.75" stop-color="#dfecf7"/><stop offset="0.7917" stop-color="#bfd8ec"/><stop offset="0.8333" stop-color="#c0d9ed"/><stop offset="0.8542" stop-color="#a4cce3"/><stop offset="0.875" stop-color="#81badb"/><stop offset="0.9167" stop-color="#9cc9e1"/><stop offset="0.9583" stop-color="#94c4df"/><stop offset="0.9792" stop-color="#a6cde4"/><stop offset="1" stop-color="#b5d4e9"/></linearGradient>
<linearGradient id="r58" gradientUnits="userSpaceOnUse" x1="207.28" y1="0" x2="1132.72" y2="0"><stop offset="0" stop-color="#a3cce3"/><stop offset="0.0208" stop-color="#bdd7ec"/><stop offset="0.0417" stop-color="#d1e2f3"/><stop offset="0.0833" stop-color="#cadef0"/><stop offset="0.125" stop-color="#cadef0"/><stop offset="0.1667" stop-color="#d4e4f4"/><stop offset="0.1875" stop-color="#c9ddf0"/><stop offset="0.2083" stop-color="#b9d6eb"/><stop offset="0.2292" stop-color="#c3daee"/><stop offset="0.2917" stop-color="#dbe9f6"/><stop offset="0.3333" stop-color="#e8f1fa"/><stop offset="0.3854" stop-color="#d9e8f5"/><stop offset="0.4167" stop-color="#d4e4f4"/><stop offset="0.4583" stop-color="#dfecf7"/><stop offset="0.5104" stop-color="#cadef0"/><stop offset="0.5312" stop-color="#bcd7ec"/><stop offset="0.5417" stop-color="#b4d3e9"/><stop offset="0.5833" stop-color="#c7dbef"/><stop offset="0.6042" stop-color="#99c7e0"/><stop offset="0.625" stop-color="#61a7d2"/><stop offset="0.6354" stop-color="#8bbfdd"/><stop offset="0.6458" stop-color="#b1d2e8"/><stop offset="0.6562" stop-color="#cee0f2"/><stop offset="0.6667" stop-color="#e3eef9"/><stop offset="0.7083" stop-color="#d9e8f5"/><stop offset="0.75" stop-color="#eaf3fb"/><stop offset="0.7708" stop-color="#d3e4f3"/><stop offset="0.7917" stop-color="#b6d4ea"/><stop offset="0.8333" stop-color="#c7dbef"/><stop offset="0.875" stop-color="#c2d9ed"/><stop offset="0.9167" stop-color="#b9d6eb"/><stop offset="0.9583" stop-color="#b9d6eb"/><stop offset="0.9792" stop-color="#c8dcf0"/><stop offset="1" stop-color="#d1e2f3"/></linearGradient>
<linearGradient id="r59" gradientUnits="userSpaceOnUse" x1="207.28" y1="0" x2="1132.72" y2="0"><stop offset="0" stop-color="#afd1e7"/><stop offset="0.0208" stop-color="#c0d9ed"/><stop offset="0.0417" stop-color="#cddff1"/><stop offset="0.0833" stop-color="#d3e3f3"/><stop offset="0.125" stop-color="#d3e3f3"/><stop offset="0.1667" stop-color="#cee1f2"/><stop offset="0.2083" stop-color="#c3daee"/><stop offset="0.25" stop-color="#d6e6f4"/><stop offset="0.2917" stop-color="#e4eff9"/><stop offset="0.3333" stop-color="#ecf4fb"/><stop offset="0.3958" stop-color="#ddeaf7"/><stop offset="0.4167" stop-color="#d7e6f5"/><stop offset="0.4583" stop-color="#dfecf7"/><stop offset="0.5" stop-color="#d2e3f3"/><stop offset="0.5208" stop-color="#c8dcf0"/><stop offset="0.5417" stop-color="#b8d5ea"/><stop offset="0.5833" stop-color="#c8ddf0"/><stop offset="0.6042" stop-color="#b8d5ea"/><stop offset="0.625" stop-color="#a5cde3"/><stop offset="0.6354" stop-color="#b9d5ea"/><stop offset="0.6458" stop-color="#cadef0"/><stop offset="0.6667" stop-color="#e2eef8"/><stop offset="0.7083" stop-color="#e2edf8"/><stop offset="0.75" stop-color="#e9f2fb"/><stop offset="0.7917" stop-color="#c3daee"/><stop offset="0.8333" stop-color="#ccdff1"/><stop offset="0.875" stop-color="#cadef0"/><stop offset="0.9375" stop-color="#cddff1"/><stop offset="0.9792" stop-color="#cfe1f2"/><stop offset="1" stop-color="#d1e2f3"/></linearGradient>
<linearGradient id="r60" gradientUnits="userSpaceOnUse" x1="207.28" y1="0" x2="1132.72" y2="0"><stop offset="0" stop-color="#bcd7ec"/><stop offset="0.0417" stop-color="#c8ddf0"/><stop offset="0.0833" stop-color="#dbe9f6"/><stop offset="0.125" stop-color="#dbe9f6"/><stop offset="0.1667" stop-color="#c8ddf0"/><stop offset="0.2083" stop-color="#cadef0"/><stop offset="0.25" stop-color="#e3eef9"/><stop offset="0.2917" stop-color="#edf5fc"/><stop offset="0.3333" stop-color="#f0f7fd"/><stop offset="0.375" stop-color="#eaf3fb"/><stop offset="0.4167" stop-color="#d9e8f5"/><stop offset="0.4583" stop-color="#dfecf7"/><stop offset="0.5" stop-color="#d6e6f4"/><stop offset="0.5312" stop-color="#c5dbef"/><stop offset="0.5417" stop-color="#bcd7ec"/><stop offset="0.5729" stop-color="#c8dcf0"/><stop offset="0.625" stop-color="#d4e4f4"/><stop offset="0.6875" stop-color="#e6f0f9"/><stop offset="0.7083" stop-color="#eaf3fb"/><stop offset="0.75" stop-color="#e8f1fa"/><stop offset="0.7917" stop-color="#ccdff1"/><stop offset="0.8333" stop-color="#d1e2f3"/><stop offset="0.875" stop-color="#d1e2f3"/><stop offset="0.9167" stop-color="#dbe9f6"/><stop offset="0.9583" stop-color="#dbe9f6"/><stop offset="1" stop-color="#d1e2f3"/></linearGradient>
<linearGradient id="r61" gradientUnits="userSpaceOnUse" x1="207.28" y1="0" x2="1132.72" y2="0"><stop offset="0" stop-color="#a9cfe5"/><stop offset="0.0417" stop-color="#b0d2e7"/><stop offset="0.0625" stop-color="#c3daee"/><stop offset="0.0833" stop-color="#cfe1f2"/><stop offset="0.125" stop-color="#cbdef1"/><stop offset="0.1458" stop-color="#bad6eb"/><stop offset="0.1667" stop-color="#a6cee4"/><stop offset="0.2083" stop-color="#c7dbef"/><stop offset="0.25" stop-color="#e5f0f9"/><stop offset="0.2917" stop-color="#eff6fc"/><stop offset="0.3333" stop-color="#f1f7fd"/><stop offset="0.3958" stop-color="#e8f1fa"/><stop offset="0.4271" stop-color="#e2eef8"/><stop offset="0.4583" stop-color="#e0ecf8"/><stop offset="0.5" stop-color="#d5e5f4"/><stop offset="0.5312" stop-color="#c7dbef"/><stop offset="0.5417" stop-color="#bfd8ec"/><stop offset="0.5521" stop-color="#c6dbef"/><stop offset="0.5833" stop-color="#d3e3f3"/><stop offset="0.6354" stop-color="#dceaf6"/><stop offset="0.6667" stop-color="#deebf7"/><stop offset="0.7083" stop-color="#e9f2fb"/><stop offset="0.75" stop-color="#e1edf8"/><stop offset="0.7917" stop-color="#d1e2f3"/><stop offset="0.8333" stop-color="#dae8f6"/><stop offset="0.875" stop-color="#cadef0"/><stop offset="0.9167" stop-color="#d3e3f3"/><stop offset="0.9583" stop-color="#d6e6f4"/><stop offset="1" stop-color="#d2e3f3"/></linearGradient>
<linearGradient id="r62" gradientUnits="userSpaceOnUse" x1="207.28" y1="0" x2="1132.72" y2="0"><stop offset="0" stop-color="#94c4df"/><stop offset="0.0417" stop-color="#94c4df"/><stop offset="0.0625" stop-color="#acd0e6"/><stop offset="0.0833" stop-color="#c2d9ed"/><stop offset="0.125" stop-color="#b4d3e9"/><stop offset="0.1458" stop-color="#9ac8e0"/><stop offset="0.1667" stop-color="#7bb7da"/><stop offset="0.1875" stop-color="#a2cce2"/><stop offset="0.2083" stop-color="#c2d9ed"/><stop offset="0.25" stop-color="#e8f1fa"/><stop offset="0.2917" stop-color="#f0f7fd"/><stop offset="0.3333" stop-color="#f3f8fe"/><stop offset="0.375" stop-color="#edf5fc"/><stop offset="0.4167" stop-color="#edf5fc"/><stop offset="0.5" stop-color="#d4e4f4"/><stop offset="0.5312" stop-color="#c8dcf0"/><stop offset="0.5417" stop-color="#c2d9ed"/><stop offset="0.5833" stop-color="#dbe9f6"/><stop offset="0.625" stop-color="#e3eef9"/><stop offset="0.6667" stop-color="#dbe9f6"/><stop offset="0.7083" stop-color="#e8f1fa"/><stop offset="0.75" stop-color="#dbe9f6"/><stop offset="0.7917" stop-color="#d6e6f4"/><stop offset="0.8333" stop-color="#e3eef9"/><stop offset="0.875" stop-color="#c2d9ed"/><stop offset="0.9167" stop-color="#cadef0"/><stop offset="0.9583" stop-color="#d1e2f3"/><stop offset="1" stop-color="#d4e4f4"/></linearGradient>
<linearGradient id="cb" x1="0" y1="0" x2="0" y2="1"><stop offset="0.0000" stop-color="#08306b"/><stop offset="0.1250" stop-color="#08519c"/><stop offset="0.2500" stop-color="#2171b5"/><stop offset="0.3750" stop-color="#4292c6"/><stop offset="0.5000" stop-color="#6baed6"/><stop offset="0.6250" stop-color="#9ecae1"/><stop offset="0.7500" stop-color="#c6dbef"/><stop offset="0.8750" stop-color="#deebf7"/><stop offset="1.0000" stop-color="#f7fbff"/></linearGradient>
</defs>
<rect x="0" y="0" width="1500" height="1500" fill="#fff"/>
<g clip-path="url(#axclip)" shape-rendering="crispEdges">
<rect x="180" y="272" width="980" height="22" fill="url(#r0)"/>
<rect x="180" y="294" width="980" height="20" fill="url(#r0)"/>
<rect x="180" y="294" width="980" height="20" fill="url(#r1)" mask="url(#vm)"/>
<rect x="180" y="314" width="980" height="19" fill="url(#r1)"/>
<rect x="180" y="314" width="980" height="19" fill="url(#r2)" mask="url(#vm)"/>
<rect x="180" y="333" width="980" height="19" fill="url(#r2)"/>
<rect x="180" y="333" width="980" height="19" fill="url(#r3)" mask="url(#vm)"/>
<rect x="180" y="352" width="980" height="20" fill="url(#r3)"/>
<rect x="180" y="352" width="980" height="20" fill="url(#r4)" mask="url(#vm)"/>
<rect x="180" y="372" width="980" height="19" fill="url(#r4)"/>
<rect x="180" y="372" width="980" height="19" fill="url(#r5)" mask="url(#vm)"/>
<rect x="180" y="391" width="980" height="19" fill="url(#r5)"/>
<rect x="180" y="391" width="980" height="19" fill="url(#r6)" mask="url(#vm)"/>
<rect x="180" y="410" width="980" height="19" fill="url(#r6)"/>
<rect x="180" y="410" width="980" height="19" fill="url(#r7)" mask="url(#vm)"/>
<rect x="180" y="429" width="980" height="20" fill="url(#r7)"/>
<rect x="180" y="429" width="980" height="20" fill="url(#r8)" mask="url(#vm)"/>
<rect x="180" y="449" width="980" height="19" fill="url(#r8)"/>
<rect x="180" y="449" width="980" height="19" fill="url(#r9)" mask="url(#vm)"/>
<rect x="180" y="468" width="980" height="19" fill="url(#r9)"/>
<rect x="180" y="468" width="980" height="19" fill="url(#r10)" mask="url(#vm)"/>
<rect x="180" y="487" width="980" height="20" fill="url(#r10)"/>
<rect x="180" y="487" width="980" height="20" fill="url(#r11)" mask="url(#vm)"/>
<rect x="180" y="507" width="980" height="19" fill="url(#r11)"/>
<rect x="180" y="507" width="980" height="19" fill="url(#r12)" mask="url(#vm)"/>
<rect x="180" y="526" width="980" height="19" fill="url(#r12)"/>
<rect x="180" y="526" width="980" height="19" fill="url(#r13)" mask="url(#vm)"/>
<rect x="180" y="545" width="980" height="19" fill="url(#r13)"/>
<rect x="180" y="545" width="980" height="19" fill="url(#r14)" mask="url(#vm)"/>
<rect x="180" y="564" width="980" height="20" fill="url(#r14)"/>
<rect x="180" y="564" width="980" height="20" fill="url(#r15)" mask="url(#vm)"/>
<rect x="180" y="584" width="980" height="19" fill="url(#r15)"/>
<rect x="180" y="584" width="980" height="19" fill="url(#r16)" mask="url(#vm)"/>
<rect x="180" y="603" width="980" height="19" fill="url(#r16)"/>
<rect x="180" y="603" width="980" height="19" fill="url(#r17)" mask="url(#vm)"/>
<rect x="180" y="622" width="980" height="20" fill="url(#r17)"/>
<rect x="180" y="622" width="980" height="20" fill="url(#r18)" mask="url(#vm)"/>
<rect x="180" y="642" width="980" height="9" fill="url(#r18)"/>
<rect x="180" y="642" width="980" height="9" fill="url(#r19)" mask="url(#vm)"/>
<rect x="180" y="651" width="980" height="10" fill="url(#r19)"/>
<rect x="180" y="651" width="980" height="10" fill="url(#r20)" mask="url(#vm)"/>
<rect x="180" y="661" width="980" height="10" fill="url(#r20)"/>
<rect x="180" y="661" width="980" height="10" fill="url(#r21)" mask="url(#vm)"/>
<rect x="180" y="671" width="980" height="9" fill="url(#r21)"/>
<rect x="180" y="671" width="980" height="9" fill="url(#r22)" mask="url(#vm)"/>
<rect x="180" y="680" width="980" height="10" fill="url(#r22)"/>
<rect x="180" y="680" width="980" height="10" fill="url(#r23)" mask="url(#vm)"/>
<rect x="180" y="690" width="980" height="10" fill="url(#r23)"/>
<rect x="180" y="690" width="980" height="10" fill="url(#r24)" mask="url(#vm)"/>
<rect x="180" y="700" width="980" height="9" fill="url(#r24)"/>
<rect x="180" y="700" width="980" height="9" fill="url(#r25)" mask="url(#vm)"/>
<rect x="180" y="709" width="980" height="10" fill="url(#r25)"/>
<rect x="180" y="709" width="980" height="10" fill="url(#r26)" mask="url(#vm)"/>
<rect x="180" y="719" width="980" height="10" fill="url(#r26)"/>
<rect x="180" y="719" width="980" height="10" fill="url(#r27)" mask="url(#vm)"/>
<rect x="180" y="729" width="980" height="9" fill="url(#r27)"/>
<rect x="180" y="729" width="980" height="9" fill="url(#r28)" mask="url(#vm)"/>
<rect x="180" y="738" width="980" height="10" fill="url(#r28)"/>
<rect x="180" y="738" width="980" height="10" fill="url(#r29)" mask="url(#vm)"/>
<rect x="180" y="748" width="980" height="10" fill="url(#r29)"/>
<rect x="180" y="748" width="980" height="10" fill="url(#r30)" mask="url(#vm)"/>
<rect x="180" y="758" width="980" height="9" fill="url(#r30)"/>
<rect x="180" y="758" width="980" height="9" fill="url(#r31)" mask="url(#vm)"/>
<rect x="180" y="767" width="980" height="10" fill="url(#r31)"/>
<rect x="180" y="767" width="980" height="10" fill="url(#r32)" mask="url(#vm)"/>
<rect x="180" y="777" width="980" height="9" fill="url(#r32)"/>
<rect x="180" y="777" width="980" height="9" fill="url(#r33)" mask="url(#vm)"/>
<rect x="180" y="786" width="980" height="10" fill="url(#r33)"/>
<rect x="180" y="786" width="980" height="10" fill="url(#r34)" mask="url(#vm)"/>
<rect x="180" y="796" width="980" height="10" fill="url(#r34)"/>
<rect x="180" y="796" width="980" height="10" fill="url(#r35)" mask="url(#vm)"/>
<rect x="180" y="806" width="980" height="9" fill="url(#r35)"/>
<rect x="180" y="806" width="980" height="9" fill="url(#r36)" mask="url(#vm)"/>
<rect x="180" y="815" width="980" height="10" fill="url(#r36)"/>
<rect x="180" y="815" width="980" height="10" fill="url(#r37)" mask="url(#vm)"/>
<rect x="180" y="825" width="980" height="10" fill="url(#r37)"/>
<rect x="180" y="825" width="980" height="10" fill="url(#r38)" mask="url(#vm)"/>
<rect x="180" y="835" width="980" height="9" fill="url(#r38)"/>
<rect x="180" y="835" width="980" height="9" fill="url(#r39)" mask="url(#vm)"/>
<rect x="180" y="844" width="980" height="10" fill="url(#r39)"/>
<rect x="180" y="844" width="980" height="10" fill="url(#r40)" mask="url(#vm)"/>
<rect x="180" y="854" width="980" height="10" fill="url(#r40)"/>
<rect x="180" y="854" width="980" height="10" fill="url(#r41)" mask="url(#vm)"/>
<rect x="180" y="864" width="980" height="9" fill="url(#r41)"/>
<rect x="180" y="864" width="980" height="9" fill="url(#r42)" mask="url(#vm)"/>
<rect x="180" y="873" width="980" height="10" fill="url(#r42)"/>
<rect x="180" y="873" width="980" height="10" fill="url(#r43)" mask="url(#vm)"/>
<rect x="180" y="883" width="980" height="10" fill="url(#r43)"/>
<rect x="180" y="883" width="980" height="10" fill="url(#r44)" mask="url(#vm)"/>
<rect x="180" y="893" width="980" height="9" fill="url(#r44)"/>
<rect x="180" y="893" width="980" height="9" fill="url(#r45)" mask="url(#vm)"/>
<rect x="180" y="902" width="980" height="10" fill="url(#r45)"/>
<rect x="180" y="902" width="980" height="10" fill="url(#r46)" mask="url(#vm)"/>
<rect x="180" y="912" width="980" height="19" fill="url(#r46)"/>
<rect x="180" y="912" width="980" height="19" fill="url(#r47)" mask="url(#vm)"/>
<rect x="180" y="931" width="980" height="19" fill="url(#r47)"/>
<rect x="180" y="931" width="980" height="19" fill="url(#r48)" mask="url(#vm)"/>
<rect x="180" y="950" width="980" height="20" fill="url(#r48)"/>
<rect x="180" y="950" width="980" height="20" fill="url(#r49)" mask="url(#vm)"/>
<rect x="180" y="970" width="980" height="19" fill="url(#r49)"/>
<rect x="180" y="970" width="980" height="19" fill="url(#r50)" mask="url(#vm)"/>
<rect x="180" y="989" width="980" height="19" fill="url(#r50)"/>
<rect x="180" y="989" width="980" height="19" fill="url(#r51)" mask="url(#vm)"/>
<rect x="180" y="1008" width="980" height="20" fill="url(#r51)"/>
<rect x="180" y="1008" width="980" height="20" fill="url(#r52)" mask="url(#vm)"/>
<rect x="180" y="1028" width="980" height="19" fill="url(#r52)"/>
<rect x="180" y="1028" width="980" height="19" fill="url(#r53)" mask="url(#vm)"/>
<rect x="180" y="1047" width="980" height="19" fill="url(#r53)"/>
<rect x="180" y="1047" width="980" height="19" fill="url(#r54)" mask="url(#vm)"/>
<rect x="180" y="1066" width="980" height="20" fill="url(#r54)"/>
<rect x="180" y="1066" width="980" height="20" fill="url(#r55)" mask="url(#vm)"/>
<rect x="180" y="1086" width="980" height="19" fill="url(#r55)"/>
<rect x="180" y="1086" width="980" height="19" fill="url(#r56)" mask="url(#vm)"/>
<rect x="180" y="1105" width="980" height="19" fill="url(#r56)"/>
<rect x="180" y="1105" width="980" height="19" fill="url(#r57)" mask="url(#vm)"/>
<rect x="180" y="1124" width="980" height="20" fill="url(#r57)"/>
<rect x="180" y="1124" width="980" height="20" fill="url(#r58)" mask="url(#vm)"/>
<rect x="180" y="1144" width="980" height="19" fill="url(#r58)"/>
<rect x="180" y="1144" width="980" height="19" fill="url(#r59)" mask="url(#vm)"/>
<rect x="180" y="1163" width="980" height="19" fill="url(#r59)"/>
<rect x="180" y="1163" width="980" height="19" fill="url(#r60)" mask="url(#vm)"/>
<rect x="180" y="1182" width="980" height="19" fill="url(#r60)"/>
<rect x="180" y="1182" width="980" height="19" fill="url(#r61)" mask="url(#vm)"/>
<rect x="180" y="1201" width="980" height="20" fill="url(#r61)"/>
<rect x="180" y="1201" width="980" height="20" fill="url(#r62)" mask="url(#vm)"/>
<rect x="180" y="1221" width="980" height="22" fill="url(#r62)"/>
</g>
<g fill="none" stroke="#000" stroke-opacity="0.72" stroke-width="2.3" stroke-linejoin="round" stroke-linecap="butt">
<path d="M725.0 734.2 L753.0 757.0 L710.3 836.3 L670.0 832.5 L629.2 807.5 L589.5 809.7 L571.3 797.5 L582.5 756.7 L590.0 751.3 L648.3 717.5 L670.0 693.3 L695.0 709.7"/>
<path d="M658.0 757.5 L669.7 751.3 L675.3 759.7 L669.7 770.0 Z"/>
</g>
<text font-size="47.92" fill-opacity="0.7" text-anchor="middle" transform="translate(714.0 716.2) rotate(42)" y="17.49">5</text>
<rect x="188" y="275" width="964" height="965" fill="none" stroke="#000" stroke-width="4.167"/>
<g stroke="#000" stroke-width="1.111">
<line x1="329.90" y1="1240" x2="329.90" y2="1244.86"/>
<line x1="670.00" y1="1240" x2="670.00" y2="1244.86"/>
<line x1="1010.10" y1="1240" x2="1010.10" y2="1244.86"/>
<line x1="188" y1="1097.65" x2="183.14" y2="1097.65"/>
<line x1="188" y1="757.50" x2="183.14" y2="757.50"/>
<line x1="188" y1="417.35" x2="183.14" y2="417.35"/>
</g>
<g font-size="83.333" text-anchor="middle">
<text x="329.90" y="1313.04">-15</text>
<text x="670.00" y="1313.04">0</text>
<text x="1010.10" y="1313.04">15</text>
</g>
<g font-size="83.333" text-anchor="end">
<text x="178.28" y="1129.59">−15</text>
<text x="178.28" y="789.16">0</text>
<text x="178.28" y="448.73">15</text>
</g>
<text font-size="104.167" text-anchor="middle" x="670" y="1415.08">dx [kpc]</text>
<text font-size="90.278" text-anchor="middle" x="670" y="256.23">OII flux MOSAIC 7055</text>
<rect x="487.40" y="306.30" width="633.80" height="110.00" rx="12.50" fill="#fff" fill-opacity="0.8" stroke="#ccc" stroke-opacity="0.8" stroke-width="1.39"/>
<line x1="511.30" y1="356.87" x2="636.30" y2="356.87" stroke="#000" stroke-width="5.56" stroke-linecap="square"/>
<text font-size="62.500" x="686.30" y="378.74">S/N Contours</text>
<rect x="1176.6" y="238.3" width="34.1" height="1039" fill="url(#cb)" stroke="#000" stroke-width="1.111"/>
<g stroke="#000" stroke-width="1.111">
<line x1="1210.7" y1="250.40" x2="1215.56" y2="250.40"/>
<line x1="1210.7" y1="327.60" x2="1215.56" y2="327.60"/>
<line x1="1210.7" y1="427.50" x2="1215.56" y2="427.50"/>
<line x1="1210.7" y1="567.50" x2="1215.56" y2="567.50"/>
<line x1="1210.7" y1="798.40" x2="1215.56" y2="798.40"/>
</g>
<g font-size="83.333">
<text x="1220.42" y="282.06">10</text>
<text x="1220.42" y="359.26">8</text>
<text x="1220.42" y="459.16">6</text>
<text x="1220.42" y="599.16">4</text>
<text x="1220.42" y="830.06">2</text>
</g>
<g transform="translate(1397.40 1166.50) rotate(-90)">
<text font-size="69.444">
<tspan x="0.00" y="-0.82">10</tspan><tspan x="89.03" y="-27.41" font-size="48.611">−20</tspan><tspan x="216.06" y="-0.82" font-style="oblique">Å</tspan><tspan x="270.38" y="-27.41" font-size="48.611">−1</tspan><tspan x="366.48" y="-0.82" font-style="oblique">cm</tspan><tspan x="475.54" y="-27.41" font-size="48.611">−2</tspan><tspan x="570.28" y="-0.82" font-style="oblique">erg</tspan><tspan x="707.22" y="-0.82" font-style="oblique">s</tspan><tspan x="748.96" y="-27.41" font-size="48.611">−1</tspan>
</text></g>
</svg></body></html>
